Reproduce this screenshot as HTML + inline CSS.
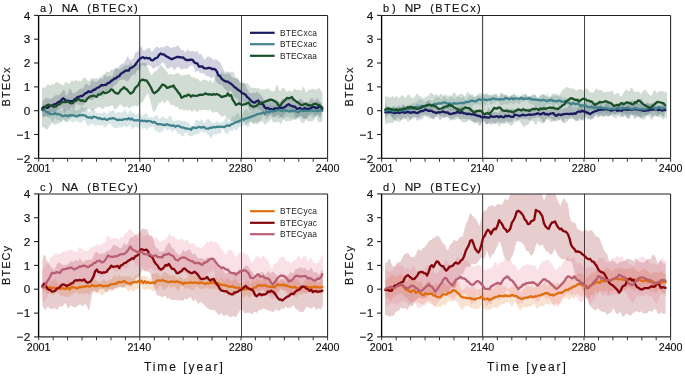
<!DOCTYPE html>
<html><head><meta charset="utf-8"><style>
html,body{margin:0;padding:0;background:#fff;width:685px;height:376px;overflow:hidden}
svg{display:block;will-change:transform}
text{font-family:"Liberation Sans",sans-serif;fill:#111;stroke:#111;stroke-width:0.15px}
</style></head><body>
<svg width="685" height="376" viewBox="0 0 685 376">
<rect width="685" height="376" fill="#fff"/>
<defs>
<clipPath id="cpa"><rect x="38.6" y="15.4" width="289" height="142.9"/></clipPath>
<clipPath id="cpb"><rect x="381.6" y="15.4" width="289" height="142.9"/></clipPath>
<clipPath id="cpc"><rect x="38.6" y="193.9" width="289" height="143"/></clipPath>
<clipPath id="cpd"><rect x="381.6" y="193.9" width="289" height="143"/></clipPath>
</defs>
<line x1="139.7" y1="15.4" x2="139.7" y2="158.3" stroke="#444" stroke-width="1.1"/>
<line x1="241.5" y1="15.4" x2="241.5" y2="158.3" stroke="#444" stroke-width="1.0"/>
<g clip-path="url(#cpa)">
<path d="M42.3 100.4L43.8 100.5L45.3 98.5L46.8 97.7L48.3 98.4L49.8 99L51.3 98.7L52.8 97.4L54.3 96.2L55.8 95.1L57.3 95.3L58.8 95.4L60.3 93.5L61.8 92.5L63.3 89.6L64.8 90.8L66.3 95.8L67.8 93.9L69.3 89.1L70.8 89.3L72.3 92.5L73.8 93.8L75.3 92.6L76.8 91.8L78.3 90L79.8 89.1L81.3 88.4L82.8 88.7L84.3 86.3L85.8 83.5L87.3 84L88.8 86L90.3 84.5L91.8 80.5L93.3 80.5L94.8 82.1L96.3 81.5L97.8 80.9L99.3 77.8L100.8 76.9L102.3 80.1L103.8 76.4L105.3 74.7L106.8 77.3L108.3 76.3L109.8 75.2L111.3 77.2L112.8 75L114.3 70.5L115.8 67.9L117.3 67.8L118.8 67.3L120.3 64.9L121.8 63.8L123.3 63.6L124.8 61.8L126.3 58.5L127.8 56.2L129.3 59L130.8 60.1L132.3 58.9L133.8 57.1L135.3 52.8L136.8 51.9L138.3 51.3L139.8 47.9L141.3 45.9L142.8 49.7L144.3 51.3L145.8 49.6L147.3 48.8L148.8 47.4L150.3 48.9L151.8 51.9L153.3 50.6L154.8 48.2L156.3 47.1L157.8 46.8L159.3 48.6L160.8 47L162.3 47.3L163.8 47.6L165.3 46L166.8 46L168.3 46L169.8 47.6L171.3 47.9L172.8 47.2L174.3 46.9L175.8 46.7L177.3 45.6L178.8 46.3L180.3 48.7L181.8 50.1L183.3 50.2L184.8 52L186.3 51.6L187.8 48.7L189.3 51.3L190.8 51.2L192.3 50.8L193.8 51.6L195.3 51.5L196.8 50.9L198.3 52.2L199.8 55.1L201.3 53.6L202.8 56.7L204.3 59.7L205.8 58.5L207.3 56.7L208.8 56.6L210.3 57.3L211.8 58.3L213.3 59.8L214.8 59.5L216.3 59.2L217.8 60.8L219.3 61.7L220.8 63.6L222.3 67.2L223.8 70.2L225.3 72.7L226.8 71.6L228.3 71.5L229.8 73.3L231.3 76.5L232.8 78.2L234.3 77.5L235.8 77.7L237.3 77.4L238.8 80.1L240.3 81.9L241.8 83.2L243.3 82.8L244.8 84.2L246.3 87L247.8 90.3L249.3 93.1L250.8 93.3L252.3 93L253.8 92.8L255.3 93.1L256.8 91.5L258.3 92.7L259.8 93.9L261.3 95.2L262.8 97.9L264.3 100.1L265.8 100.7L267.3 99L268.8 98.4L270.3 100.2L271.8 98.5L273.3 99.5L274.8 101.6L276.3 100.1L277.8 101.5L279.3 102.5L280.8 101.4L282.3 99.1L283.8 98.5L285.3 99.4L286.8 97.2L288.3 97.3L289.8 99.5L291.3 96.4L292.8 96.6L294.3 98.1L295.8 99.7L297.3 102.6L298.8 100.2L300.3 98.3L301.8 100.1L303.3 101.1L304.8 103.1L306.3 104.6L307.8 102L309.3 101.3L310.8 98.6L312.3 97.7L313.8 101.1L315.3 100.3L316.8 98.3L318.3 99.1L319.8 102.8L321.3 102.7L321.3 114.3L319.8 116.8L318.3 114.9L316.8 114L315.3 116.7L313.8 114.7L312.3 112.8L310.8 114L309.3 114.5L307.8 116L306.3 119.1L304.8 119.1L303.3 118.2L301.8 117.1L300.3 116.1L298.8 116.6L297.3 117.8L295.8 117.7L294.3 114.7L292.8 112.5L291.3 113.4L289.8 113.2L288.3 111.9L286.8 112.2L285.3 113.7L283.8 115.3L282.3 116.9L280.8 117.3L279.3 116.1L277.8 114.5L276.3 115.2L274.8 117.1L273.3 116.7L271.8 114.7L270.3 113L268.8 115.8L267.3 116.2L265.8 115.7L264.3 115.6L262.8 112.2L261.3 110.7L259.8 109.6L258.3 108.6L256.8 108L255.3 108.7L253.8 110.1L252.3 110.1L250.8 110.6L249.3 110.2L247.8 106L246.3 103.8L244.8 103.8L243.3 101.6L241.8 101.8L240.3 103L238.8 101.2L237.3 99.6L235.8 98.1L234.3 97.2L232.8 94.1L231.3 90.5L229.8 90.5L228.3 92L226.8 91.2L225.3 89.1L223.8 88.3L222.3 85.5L220.8 84.6L219.3 84.4L217.8 83.5L216.3 81.5L214.8 77.5L213.3 76.7L211.8 78.3L210.3 78L208.8 76L207.3 76.5L205.8 75.4L204.3 73.8L202.8 73.3L201.3 72.8L199.8 73.3L198.3 70.5L196.8 71.5L195.3 72.4L193.8 67.2L192.3 65.3L190.8 65.8L189.3 66.6L187.8 68.3L186.3 69.1L184.8 68.5L183.3 68.4L181.8 70L180.3 68.5L178.8 66.8L177.3 67.1L175.8 68.4L174.3 70.4L172.8 68L171.3 66.8L169.8 68.1L168.3 68.8L166.8 68.6L165.3 65.9L163.8 62.9L162.3 62.2L160.8 64.2L159.3 65.5L157.8 66.6L156.3 66.4L154.8 68.1L153.3 69L151.8 66.8L150.3 65.5L148.8 65.1L147.3 64.9L145.8 65.5L144.3 66.8L142.8 64.5L141.3 66.6L139.8 71.1L138.3 69.9L136.8 70.6L135.3 74.6L133.8 74.6L132.3 75.1L130.8 76.8L129.3 79.4L127.8 81.6L126.3 81.2L124.8 79.7L123.3 79.4L121.8 79.8L120.3 80L118.8 80.8L117.3 83.2L115.8 84.7L114.3 86L112.8 86.9L111.3 88.9L109.8 89.7L108.3 90L106.8 91.6L105.3 91.6L103.8 93.7L102.3 96.9L100.8 95.2L99.3 93.2L97.8 95L96.3 95.5L94.8 97.7L93.3 99.7L91.8 100.1L90.3 100.2L88.8 97.9L87.3 97.7L85.8 99.8L84.3 103.2L82.8 105.4L81.3 105L79.8 105.6L78.3 104.2L76.8 103.1L75.3 105.4L73.8 108.3L72.3 107.5L70.8 108L69.3 109.9L67.8 110.2L66.3 111.7L64.8 112.5L63.3 109L61.8 106.8L60.3 109.6L58.8 109.6L57.3 109.1L55.8 112.2L54.3 114.2L52.8 112.3L51.3 111.8L49.8 114.9L48.3 118L46.8 116.2L45.3 115.5L43.8 118.3L42.3 116.1Z" fill="#1a1a5e" fill-opacity="0.2"/>
<path d="M42.3 107.4L43.8 104L45.3 104.2L46.8 104.5L48.3 104.2L49.8 105.1L51.3 107.1L52.8 107.1L54.3 107.5L55.8 107.8L57.3 107.3L58.8 109.8L60.3 111L61.8 109.2L63.3 108.9L64.8 110.2L66.3 112.6L67.8 111.7L69.3 108.6L70.8 109.5L72.3 108.4L73.8 107.5L75.3 110.1L76.8 111.3L78.3 109.8L79.8 109.4L81.3 105.9L82.8 106.7L84.3 109.2L85.8 106.7L87.3 108.9L88.8 112.4L90.3 111.4L91.8 109L93.3 109.1L94.8 110.5L96.3 112.3L97.8 113.4L99.3 112.6L100.8 113.5L102.3 113.5L103.8 111.4L105.3 112.5L106.8 114.2L108.3 112.9L109.8 111L111.3 111.5L112.8 109.9L114.3 110.6L115.8 114.3L117.3 111.9L118.8 111.7L120.3 112.2L121.8 112.8L123.3 111.3L124.8 109.1L126.3 112L127.8 114.2L129.3 111.3L130.8 109.7L132.3 112.9L133.8 113.1L135.3 114.9L136.8 114.5L138.3 113.3L139.8 113.5L141.3 114.8L142.8 116.1L144.3 114.2L145.8 112.3L147.3 114.7L148.8 117.6L150.3 116.7L151.8 117.3L153.3 117.4L154.8 116L156.3 115.2L157.8 115.6L159.3 118.7L160.8 118.1L162.3 115.9L163.8 117.2L165.3 118.1L166.8 119.1L168.3 117.4L169.8 115.1L171.3 116.8L172.8 120.5L174.3 121.6L175.8 120.8L177.3 119.9L178.8 120.3L180.3 120.6L181.8 121.5L183.3 121.2L184.8 120.7L186.3 121.8L187.8 122.5L189.3 123.2L190.8 125.4L192.3 126.8L193.8 125.4L195.3 121.2L196.8 119L198.3 120.5L199.8 121.4L201.3 119.4L202.8 120.1L204.3 124L205.8 121.1L207.3 118.8L208.8 119.4L210.3 120.5L211.8 122.1L213.3 124.1L214.8 123L216.3 121.3L217.8 121.5L219.3 122.4L220.8 122.8L222.3 122.3L223.8 120.2L225.3 118.5L226.8 118.8L228.3 120.5L229.8 121.4L231.3 118.5L232.8 116.4L234.3 116.5L235.8 115.3L237.3 113L238.8 113.8L240.3 117.1L241.8 115.7L243.3 111.7L244.8 110.1L246.3 108.7L247.8 110.2L249.3 112.1L250.8 111.1L252.3 110L253.8 109.6L255.3 109L256.8 106.7L258.3 105.5L259.8 107L261.3 106.1L262.8 105.1L264.3 104.7L265.8 104.5L267.3 106L268.8 105.5L270.3 104L271.8 105.3L273.3 106.1L274.8 107.1L276.3 103.9L277.8 102.9L279.3 104.6L280.8 103.7L282.3 105.3L283.8 106.4L285.3 106.7L286.8 105.7L288.3 106.4L289.8 106L291.3 104.1L292.8 105.3L294.3 104.8L295.8 106.2L297.3 108L298.8 107.9L300.3 106.6L301.8 103.7L303.3 103.9L304.8 105.1L306.3 104.3L307.8 103.9L309.3 104.5L310.8 105.9L312.3 105.2L313.8 104.5L315.3 104.4L316.8 102L318.3 101.9L319.8 101.5L321.3 102.4L321.3 118.8L319.8 118.2L318.3 115.1L316.8 114.8L315.3 116.6L313.8 118.8L312.3 117.6L310.8 115.6L309.3 116.1L307.8 117.2L306.3 117.9L304.8 118.2L303.3 118.3L301.8 115.3L300.3 114.9L298.8 118.1L297.3 119.8L295.8 119.6L294.3 119.4L292.8 118.5L291.3 118.3L289.8 118.2L288.3 116.6L286.8 116.6L285.3 117.6L283.8 119.7L282.3 118.4L280.8 117.2L279.3 118.4L277.8 118.3L276.3 116.7L274.8 116.2L273.3 118.3L271.8 116.8L270.3 115.5L268.8 116.5L267.3 119.4L265.8 119.5L264.3 115.2L262.8 116.5L261.3 119L259.8 120.9L258.3 122.3L256.8 121.7L255.3 121.5L253.8 122.5L252.3 122.4L250.8 121.7L249.3 125.9L247.8 127.4L246.3 125.9L244.8 124.8L243.3 125.7L241.8 127.3L240.3 126.8L238.8 127.4L237.3 129.7L235.8 130.5L234.3 128.4L232.8 130.8L231.3 131.5L229.8 129.8L228.3 133.7L226.8 133.9L225.3 133.1L223.8 130.3L222.3 128.5L220.8 133.4L219.3 133.7L217.8 133L216.3 134.9L214.8 134L213.3 134.4L211.8 138.7L210.3 137.6L208.8 135L207.3 134.1L205.8 132L204.3 132.6L202.8 132L201.3 131.1L199.8 132.6L198.3 133.7L196.8 134.5L195.3 134.7L193.8 135.1L192.3 136.1L190.8 136.6L189.3 136.3L187.8 133.5L186.3 132L184.8 133.2L183.3 136L181.8 136.7L180.3 134.1L178.8 133.7L177.3 133.2L175.8 130L174.3 129.7L172.8 131.8L171.3 130.7L169.8 128.6L168.3 130.1L166.8 130.8L165.3 128L163.8 128.7L162.3 132.4L160.8 132.2L159.3 133L157.8 131.5L156.3 131L154.8 130.8L153.3 126.3L151.8 126.7L150.3 127.5L148.8 127.8L147.3 130.1L145.8 128.5L144.3 128L142.8 129.3L141.3 125.7L139.8 126.6L138.3 128.5L136.8 126.8L135.3 126.4L133.8 128.4L132.3 129.1L130.8 126.2L129.3 125.3L127.8 126.8L126.3 127.5L124.8 126.2L123.3 126.3L121.8 127.6L120.3 127.2L118.8 127.3L117.3 128.4L115.8 128.2L114.3 127.7L112.8 127.2L111.3 125L109.8 123.2L108.3 124.4L106.8 125.7L105.3 127.8L103.8 126.4L102.3 124.8L100.8 125.9L99.3 125.5L97.8 124.2L96.3 125.7L94.8 126.1L93.3 123.8L91.8 124.4L90.3 124L88.8 126.7L87.3 126.1L85.8 121.7L84.3 120L82.8 120.8L81.3 123.6L79.8 122.9L78.3 121.3L76.8 121.8L75.3 120.4L73.8 121.4L72.3 122.9L70.8 121L69.3 120.9L67.8 122.8L66.3 122.3L64.8 120.5L63.3 120.2L61.8 122.2L60.3 121L58.8 119.7L57.3 120.5L55.8 117.8L54.3 118.9L52.8 122.6L51.3 120L49.8 118.2L48.3 116.5L46.8 115.9L45.3 116.7L43.8 116L42.3 116Z" fill="#41828c" fill-opacity="0.2"/>
<path d="M42 86.6L43.5 87.9L45 87.8L46.5 86.3L48 83.9L49.5 85.7L51 85L52.5 83.4L54 85.1L55.5 82.6L57 82.2L58.5 82.4L60 83.7L61.5 84.3L63 85.6L64.5 83.6L66 81.8L67.5 82.9L69 83.9L70.5 82.2L72 80.1L73.5 82.1L75 80L76.5 80.2L78 81.4L79.5 80.6L81 81.4L82.5 79.1L84 77.2L85.5 78.2L87 80.1L88.5 81.4L90 79.8L91.5 78.2L93 78.2L94.5 78.3L96 78.4L97.5 78.1L99 79.9L100.5 78.5L102 74.9L103.5 75.1L105 73.4L106.5 71.5L108 71.8L109.5 72.2L111 69.8L112.5 69.6L114 69.8L115.5 67.7L117 68.7L118.5 69L120 68.9L121.5 67.9L123 66.3L124.5 66.2L126 64.7L127.5 65.4L129 65.3L130.5 62L132 64.9L133.5 65.9L135 61.7L136.5 63.7L138 64.3L139.5 63L141 63.1L142.5 62.7L144 62.9L145.5 62.4L147 65L148.5 69L150 72.8L151.5 75.6L153 73.2L154.5 71.3L156 71.6L157.5 69.6L159 67.1L160.5 64.8L162 66.3L163.5 67.4L165 69.3L166.5 71L168 73.6L169.5 74.7L171 73.4L172.5 74.5L174 74.9L175.5 73.6L177 73L178.5 73.1L180 74.6L181.5 75.8L183 75.2L184.5 75.3L186 74.6L187.5 74.7L189 74.1L190.5 75.6L192 77.8L193.5 76.9L195 77.9L196.5 78.6L198 78.5L199.5 80.8L201 81.7L202.5 79.5L204 80.1L205.5 79.4L207 80.6L208.5 81.9L210 79.5L211.5 81.9L213 82.9L214.5 78.5L216 74.9L217.5 75.5L219 76.3L220.5 74.3L222 72L223.5 73.8L225 74.2L226.5 73.8L228 74.5L229.5 72.7L231 72L232.5 71.2L234 72.9L235.5 78.7L237 78.9L238.5 79.9L240 83.6L241.5 82.9L243 82.4L244.5 83.3L246 83.1L247.5 83.4L249 85L250.5 86.7L252 88.4L253.5 87.4L255 88.1L256.5 88.4L258 87.5L259.5 89.1L261 89.6L262.5 89.3L264 90L265.5 89.6L267 88.4L268.5 88.6L270 90.4L271.5 90.4L273 91.3L274.5 91.5L276 85.8L277.5 85L279 90.4L280.5 91L282 88.5L283.5 87.5L285 89.5L286.5 91.7L288 91L289.5 90.3L291 91.3L292.5 91.8L294 88.8L295.5 88.8L297 90.6L298.5 89.6L300 90.4L301.5 90.7L303 86.5L304.5 88.3L306 93.1L307.5 91.1L309 89.4L310.5 89.8L312 88.8L313.5 88.8L315 90.1L316.5 89.3L318 88.5L319.5 88.1L321 90.5L322.5 92.9L322.5 120.6L321 122.3L319.5 122.8L318 121.1L316.5 116.8L315 117.4L313.5 120.2L312 121.5L310.5 121.3L309 121.2L307.5 121.1L306 119.2L304.5 121.9L303 123.5L301.5 122.5L300 120.1L298.5 116.6L297 117.7L295.5 119.7L294 119.5L292.5 119.8L291 121.5L289.5 120.6L288 120.7L286.5 121.7L285 120.6L283.5 118.8L282 121.9L280.5 124.8L279 121.5L277.5 121.8L276 122.6L274.5 121.8L273 122.6L271.5 118.8L270 119.5L268.5 122.8L267 121.8L265.5 125L264 124L262.5 120.7L261 121.8L259.5 122L258 123.7L256.5 124.3L255 123.5L253.5 124.5L252 122.5L250.5 121L249 122.6L247.5 123.6L246 124.8L244.5 122.6L243 121.8L241.5 122L240 122.4L238.5 124.6L237 122.9L235.5 121L234 120.9L232.5 121.7L231 121.2L229.5 119.2L228 119.6L226.5 118.4L225 115.1L223.5 116.1L222 117.2L220.5 115.3L219 113.9L217.5 112.2L216 111.7L214.5 111.9L213 113L211.5 111.3L210 109.1L208.5 110.9L207 110.1L205.5 109.8L204 109.9L202.5 110.1L201 110.7L199.5 109.3L198 111.4L196.5 112.3L195 109.5L193.5 110.7L192 111.7L190.5 110.3L189 109.8L187.5 110.7L186 109.8L184.5 110.4L183 110.2L181.5 108.7L180 110.3L178.5 108L177 106.5L175.5 106.9L174 105.3L172.5 105L171 105.2L169.5 102.6L168 100.6L166.5 100.5L165 103.7L163.5 102.1L162 100.5L160.5 102.9L159 103.3L157.5 106.1L156 108.9L154.5 111.4L153 111.7L151.5 105.4L150 99.7L148.5 93.8L147 94.5L145.5 96.3L144 99.6L142.5 102.8L141 101.8L139.5 104.5L138 106.6L136.5 106L135 105.4L133.5 106.2L132 106.4L130.5 107.2L129 109L127.5 106.3L126 106.8L124.5 107.8L123 106.6L121.5 105.5L120 104.3L118.5 106.5L117 107.8L115.5 109.7L114 108.4L112.5 104.9L111 105.5L109.5 106.2L108 107.2L106.5 106.5L105 106.6L103.5 109.1L102 108.7L100.5 107.5L99 106.7L97.5 107.6L96 108.3L94.5 109.2L93 110.8L91.5 110L90 109.5L88.5 108.9L87 109.1L85.5 111L84 112L82.5 111.6L81 113L79.5 114.9L78 114.9L76.5 115.5L75 114.3L73.5 113.8L72 115.9L70.5 118.4L69 119.3L67.5 119.5L66 122L64.5 120.7L63 118.6L61.5 121L60 123.2L58.5 123.3L57 123.9L55.5 124.7L54 124.3L52.5 123.1L51 123.8L49.5 125.8L48 128.6L46.5 130.1L45 128.2L43.5 126.9L42 126.9Z" fill="#1a5028" fill-opacity="0.2"/>
<path d="M42.3 108L43.9 107L45.5 106.8L47.1 107.9L48.7 106.9L50.3 105.6L51.9 105.9L53.5 104.6L55.1 104.2L56.7 103.5L58.3 102.2L59.9 101.6L61.5 99.9L63.1 98.3L64.7 99.4L66.3 100.8L67.9 100.6L69.5 101.4L71.1 101L72.7 101.4L74.3 99.6L75.9 98.7L77.5 97.2L79.1 96.7L80.7 96L82.3 96.1L83.9 94.7L85.5 93.2L87.1 92.7L88.7 91.2L90.3 92.1L91.9 91.5L93.5 89.7L95.1 89.8L96.7 88L98.3 87.6L99.9 86.6L101.5 85L103.1 85.3L104.7 84.8L106.3 84.8L107.9 82.8L109.5 82.8L111.1 80.9L112.7 80.1L114.3 78.5L115.9 78.4L117.5 76.6L119.1 76.3L120.7 74L122.3 72.8L123.9 71.9L125.5 70.6L127.1 70.4L128.7 70.6L130.3 67.8L131.9 67.6L133.5 66.4L135.1 65.2L136.7 62.6L138.3 60.6L139.9 58.9L141.5 57.8L143.1 57.2L144.7 58.4L146.3 57.7L147.9 58.4L149.5 58L151.1 60L152.7 60.4L154.3 59.2L155.9 58L157.5 57.5L159.1 54.9L160.7 53.5L162.3 54.4L163.9 54.4L165.5 55.8L167.1 56.8L168.7 57.6L170.3 58.6L171.9 59.3L173.5 58.3L175.1 57.8L176.7 57L178.3 57L179.9 57.2L181.5 57.7L183.1 57.4L184.7 59L186.3 60.2L187.9 59.8L189.5 60L191.1 59.7L192.7 60L194.3 62.4L195.9 63.1L197.5 63.7L199.1 66.7L200.7 66.5L202.3 66.4L203.9 68.1L205.5 68.4L207.1 68.4L208.7 67.8L210.3 67.9L211.9 69.2L213.5 69L215.1 69.3L216.7 71.3L218.3 75.3L219.9 75.9L221.5 78.6L223.1 79.9L224.7 80.9L226.3 81.6L227.9 81.6L229.5 83L231.1 83.7L232.7 85.3L234.3 86.9L235.9 87.9L237.5 89.4L239.1 90.4L240.7 91.7L242.3 93.3L243.9 93.7L245.5 94.7L247.1 97L248.7 98.2L250.3 99.9L251.9 101.5L253.5 102.4L255.1 102.5L256.7 101.2L258.3 100.5L259.9 103.3L261.5 103.8L263.1 104.3L264.7 107.4L266.3 108.5L267.9 107.9L269.5 109L271.1 109.1L272.7 109.9L274.3 108.5L275.9 108.5L277.5 108.3L279.1 108.1L280.7 107.6L282.3 108L283.9 107.6L285.5 106.6L287.1 105L288.7 104.2L290.3 105.5L291.9 105.9L293.5 106.6L295.1 106.6L296.7 108.8L298.3 108.6L299.9 107.9L301.5 109.1L303.1 109.6L304.7 107.9L306.3 109.1L307.9 108.8L309.5 108.8L311.1 107.8L312.7 107.2L314.3 107.1L315.9 107.9L317.5 108L319.1 106.7L320.7 106.9L322.3 109.2" fill="none" stroke="#1a1a5e" stroke-width="2.3" stroke-linejoin="round" stroke-linecap="round"/>
<path d="M42.3 110L43.9 110.2L45.5 111.1L47.1 112.4L48.7 112.5L50.3 114.1L51.9 114.1L53.5 114.2L55.1 113.1L56.7 114.4L58.3 113.9L59.9 114.5L61.5 115.6L63.1 116.3L64.7 115.5L66.3 115.4L67.9 116.4L69.5 115.2L71.1 115.7L72.7 115.2L74.3 115.7L75.9 116.3L77.5 116.3L79.1 115.2L80.7 115.3L82.3 114.8L83.9 115.4L85.5 115.7L87.1 117.2L88.7 117.7L90.3 117.2L91.9 118.2L93.5 116.6L95.1 117L96.7 117.5L98.3 118.5L99.9 118.1L101.5 119.1L103.1 119.1L104.7 118.6L106.3 119.9L107.9 119.6L109.5 118.6L111.1 118.6L112.7 118.2L114.3 118.4L115.9 119.3L117.5 120.1L119.1 119.7L120.7 119.8L122.3 119.9L123.9 119.2L125.5 119.1L127.1 119.3L128.7 118.2L130.3 119.5L131.9 118.5L133.5 120.1L135.1 120.3L136.7 120.3L138.3 120.2L139.9 120.8L141.5 120.7L143.1 121.1L144.7 120.7L146.3 121.5L147.9 120.8L149.5 121.2L151.1 121.3L152.7 122.7L154.3 121.9L155.9 123L157.5 124.4L159.1 124.1L160.7 124.1L162.3 124.8L163.9 124.6L165.5 125.1L167.1 124.2L168.7 124.9L170.3 125.4L171.9 125.9L173.5 125.2L175.1 126.8L176.7 125.9L178.3 125.9L179.9 126.5L181.5 127.4L183.1 127.5L184.7 128.2L186.3 128.5L187.9 128.7L189.5 128.8L191.1 129.7L192.7 127.5L194.3 127.6L195.9 128.1L197.5 127.5L199.1 126.7L200.7 127.5L202.3 127.5L203.9 126.7L205.5 128.3L207.1 128.6L208.7 128.5L210.3 127.6L211.9 127.8L213.5 127L215.1 127.4L216.7 126.7L218.3 127.1L219.9 126.5L221.5 126.9L223.1 126.8L224.7 127L226.3 125.6L227.9 125.5L229.5 125.8L231.1 124.4L232.7 124L234.3 123.1L235.9 122.1L237.5 121.8L239.1 121L240.7 120.4L242.3 119.1L243.9 119.8L245.5 118.4L247.1 118.4L248.7 117.4L250.3 117.4L251.9 116.3L253.5 115.8L255.1 115.3L256.7 114.4L258.3 114L259.9 113.7L261.5 113.3L263.1 112.4L264.7 113.7L266.3 111.7L267.9 111.6L269.5 112.6L271.1 110.7L272.7 111.4L274.3 111.3L275.9 110.7L277.5 110.1L279.1 109.9L280.7 110.6L282.3 110.9L283.9 109.6L285.5 110.9L287.1 110.5L288.7 111.4L290.3 111.1L291.9 110.7L293.5 110.8L295.1 111L296.7 111.6L298.3 112.3L299.9 110.9L301.5 110.7L303.1 111L304.7 110.6L306.3 111L307.9 110.8L309.5 110.6L311.1 110.2L312.7 110.7L314.3 111L315.9 110.5L317.5 111.1L319.1 110.7L320.7 110.1L322.3 111" fill="none" stroke="#41828c" stroke-width="2.3" stroke-linejoin="round" stroke-linecap="round"/>
<path d="M42.3 109.3L43.9 108.1L45.5 106.9L47.1 105.2L48.7 104.7L50.3 105.9L51.9 105.6L53.5 106.9L55.1 106.7L56.7 105.9L58.3 104.4L59.9 104.1L61.5 102.3L63.1 102L64.7 101.9L66.3 102.1L67.9 101.1L69.5 102.7L71.1 103.3L72.7 103.2L74.3 101.2L75.9 100.8L77.5 99.4L79.1 99.2L80.7 100.8L82.3 100.2L83.9 101.2L85.5 101.3L87.1 98.9L88.7 97.5L90.3 96.3L91.9 96.2L93.5 95.5L95.1 96.2L96.7 96.9L98.3 94.3L99.9 94.7L101.5 93.4L103.1 92L104.7 93.2L106.3 92.9L107.9 92.2L109.5 91.3L111.1 89.4L112.7 89.9L114.3 92L115.9 93.2L117.5 93.7L119.1 92.6L120.7 90L122.3 89L123.9 87.2L125.5 88.7L127.1 89.6L128.7 91.7L130.3 93.6L131.9 93L133.5 91.4L135.1 88.1L136.7 86.5L138.3 85.1L139.9 81.4L141.5 80L143.1 79.7L144.7 80.3L146.3 80.3L147.9 82.4L149.5 85L151.1 87.8L152.7 91.6L154.3 93.2L155.9 92.2L157.5 91L159.1 89L160.7 87L162.3 84.5L163.9 85L165.5 85.9L167.1 88L168.7 87.4L170.3 86.6L171.9 86.5L173.5 85.5L175.1 88.4L176.7 90L178.3 92.7L179.9 94.2L181.5 97.7L183.1 97L184.7 95.9L186.3 96L187.9 94.7L189.5 95.2L191.1 96.7L192.7 95.3L194.3 95.6L195.9 95.8L197.5 95.6L199.1 95L200.7 94.7L202.3 94.8L203.9 94.3L205.5 93.4L207.1 94.2L208.7 94.5L210.3 94.2L211.9 94.9L213.5 94L215.1 94.7L216.7 94L218.3 94.7L219.9 95.6L221.5 97.2L223.1 96.6L224.7 96.1L226.3 95.8L227.9 93.4L229.5 95.8L231.1 95.1L232.7 99.7L234.3 102L235.9 105L237.5 104.3L239.1 103.1L240.7 104.3L242.3 104.8L243.9 104.4L245.5 104.2L247.1 103.2L248.7 102.5L250.3 105.3L251.9 105.9L253.5 106.8L255.1 106.3L256.7 105.6L258.3 104L259.9 104.2L261.5 102.4L263.1 102.7L264.7 101.8L266.3 101.1L267.9 100.7L269.5 99.9L271.1 99.6L272.7 100L274.3 101.2L275.9 101.8L277.5 103.6L279.1 106.4L280.7 105.2L282.3 102.7L283.9 101.2L285.5 99.7L287.1 97.8L288.7 98.3L290.3 97.8L291.9 97L293.5 99.7L295.1 100.6L296.7 101.9L298.3 102.6L299.9 104.3L301.5 104.8L303.1 104.8L304.7 104L306.3 103.7L307.9 105.5L309.5 104.9L311.1 105.8L312.7 104.8L314.3 103.8L315.9 103.6L317.5 104.8L319.1 104.8L320.7 106.1L322.3 107.6" fill="none" stroke="#1a5028" stroke-width="2.3" stroke-linejoin="round" stroke-linecap="round"/>
</g>
<line x1="38.6" y1="15.4" x2="327.6" y2="15.4" stroke="#222" stroke-width="1.05"/>
<line x1="327.6" y1="15.4" x2="327.6" y2="158.3" stroke="#222" stroke-width="1.05"/>
<line x1="38.6" y1="158.3" x2="327.6" y2="158.3" stroke="#2a2a2a" stroke-width="1.25"/>
<line x1="38.6" y1="15.4" x2="38.6" y2="158.3" stroke="#000" stroke-width="1.35"/>
<line x1="34.1" y1="158.3" x2="38.6" y2="158.3" stroke="#222" stroke-width="1.1"/>
<text x="30.3" y="162.5" font-size="11.8" text-anchor="end">−2</text>
<line x1="34.1" y1="134.5" x2="38.6" y2="134.5" stroke="#222" stroke-width="1.1"/>
<text x="30.3" y="138.7" font-size="11.8" text-anchor="end">−1</text>
<line x1="34.1" y1="110.7" x2="38.6" y2="110.7" stroke="#222" stroke-width="1.1"/>
<text x="30.3" y="114.9" font-size="11.8" text-anchor="end">0</text>
<line x1="34.1" y1="86.9" x2="38.6" y2="86.9" stroke="#222" stroke-width="1.1"/>
<text x="30.3" y="91.1" font-size="11.8" text-anchor="end">1</text>
<line x1="34.1" y1="63" x2="38.6" y2="63" stroke="#222" stroke-width="1.1"/>
<text x="30.3" y="67.2" font-size="11.8" text-anchor="end">2</text>
<line x1="34.1" y1="39.2" x2="38.6" y2="39.2" stroke="#222" stroke-width="1.1"/>
<text x="30.3" y="43.4" font-size="11.8" text-anchor="end">3</text>
<line x1="34.1" y1="15.4" x2="38.6" y2="15.4" stroke="#222" stroke-width="1.1"/>
<text x="30.3" y="19.6" font-size="11.8" text-anchor="end">4</text>
<line x1="38.7" y1="158.3" x2="38.7" y2="161.8" stroke="#333" stroke-width="1"/>
<line x1="53.2" y1="158.3" x2="53.2" y2="161.8" stroke="#333" stroke-width="1"/>
<line x1="67.6" y1="158.3" x2="67.6" y2="161.8" stroke="#333" stroke-width="1"/>
<line x1="82" y1="158.3" x2="82" y2="161.8" stroke="#333" stroke-width="1"/>
<line x1="96.5" y1="158.3" x2="96.5" y2="161.8" stroke="#333" stroke-width="1"/>
<line x1="111" y1="158.3" x2="111" y2="161.8" stroke="#333" stroke-width="1"/>
<line x1="125.4" y1="158.3" x2="125.4" y2="161.8" stroke="#333" stroke-width="1"/>
<line x1="139.8" y1="158.3" x2="139.8" y2="161.8" stroke="#333" stroke-width="1"/>
<line x1="154.3" y1="158.3" x2="154.3" y2="161.8" stroke="#333" stroke-width="1"/>
<line x1="168.8" y1="158.3" x2="168.8" y2="161.8" stroke="#333" stroke-width="1"/>
<line x1="183.2" y1="158.3" x2="183.2" y2="161.8" stroke="#333" stroke-width="1"/>
<line x1="197.6" y1="158.3" x2="197.6" y2="161.8" stroke="#333" stroke-width="1"/>
<line x1="212.1" y1="158.3" x2="212.1" y2="161.8" stroke="#333" stroke-width="1"/>
<line x1="226.6" y1="158.3" x2="226.6" y2="161.8" stroke="#333" stroke-width="1"/>
<line x1="241" y1="158.3" x2="241" y2="161.8" stroke="#333" stroke-width="1"/>
<line x1="255.4" y1="158.3" x2="255.4" y2="161.8" stroke="#333" stroke-width="1"/>
<line x1="269.9" y1="158.3" x2="269.9" y2="161.8" stroke="#333" stroke-width="1"/>
<line x1="284.3" y1="158.3" x2="284.3" y2="161.8" stroke="#333" stroke-width="1"/>
<line x1="298.8" y1="158.3" x2="298.8" y2="161.8" stroke="#333" stroke-width="1"/>
<line x1="313.2" y1="158.3" x2="313.2" y2="161.8" stroke="#333" stroke-width="1"/>
<line x1="327.6" y1="158.3" x2="327.6" y2="161.8" stroke="#333" stroke-width="1"/>
<text x="38.6" y="172" font-size="11.6" text-anchor="middle" textLength="23.8" lengthAdjust="spacingAndGlyphs">2001</text>
<text x="139.3" y="172" font-size="11.6" text-anchor="middle" textLength="23.8" lengthAdjust="spacingAndGlyphs">2140</text>
<text x="240.7" y="172" font-size="11.6" text-anchor="middle" textLength="23.8" lengthAdjust="spacingAndGlyphs">2280</text>
<text x="327.6" y="172" font-size="11.6" text-anchor="middle" textLength="23.8" lengthAdjust="spacingAndGlyphs">2400</text>
<text x="40" y="12.4" font-size="11" textLength="12.6" lengthAdjust="spacing">a)</text>
<text x="61.8" y="12.4" font-size="11" textLength="16.5" lengthAdjust="spacingAndGlyphs">NA</text>
<text x="87.2" y="12.4" font-size="11" textLength="50.5" lengthAdjust="spacing">(BTECx)</text>
<text transform="translate(10.1 86.9) rotate(-90)" font-size="11" text-anchor="middle" textLength="39" lengthAdjust="spacing">BTECx</text>
<line x1="250" y1="32.8" x2="274.6" y2="32.8" stroke="#1a1a5e" stroke-width="2.2"/>
<text x="280" y="35.8" font-size="8.4" textLength="37" lengthAdjust="spacing" style="stroke-width:0;fill:#1a1a1a">BTECxca</text>
<line x1="250" y1="44.2" x2="274.6" y2="44.2" stroke="#41828c" stroke-width="2.2"/>
<text x="280" y="47.2" font-size="8.4" textLength="37" lengthAdjust="spacing" style="stroke-width:0;fill:#1a1a1a">BTECxac</text>
<line x1="250" y1="55.8" x2="274.6" y2="55.8" stroke="#1a5028" stroke-width="2.2"/>
<text x="280" y="58.8" font-size="8.4" textLength="37" lengthAdjust="spacing" style="stroke-width:0;fill:#1a1a1a">BTECxaa</text>
<line x1="482.6" y1="15.4" x2="482.6" y2="158.3" stroke="#444" stroke-width="1.1"/>
<line x1="584.5" y1="15.4" x2="584.5" y2="158.3" stroke="#444" stroke-width="1.0"/>
<g clip-path="url(#cpb)">
<path d="M385.3 107.9L386.8 106.5L388.3 106.8L389.8 108.7L391.3 107.2L392.8 106.4L394.3 107.2L395.8 108.1L397.3 107.3L398.8 105.3L400.3 106.7L401.8 107.3L403.3 105.1L404.8 105.3L406.3 107.1L407.8 106.5L409.3 106.5L410.8 107.1L412.3 105.1L413.8 106.5L415.3 107.5L416.8 103.2L418.3 104L419.8 107.4L421.3 106.3L422.8 105.8L424.3 107.4L425.8 104.2L427.3 100.2L428.8 100.3L430.3 104.9L431.8 105.8L433.3 103.2L434.8 103L436.3 105L437.8 106.8L439.3 107.8L440.8 108.7L442.3 106.5L443.8 105L445.3 104.8L446.8 105.4L448.3 105.7L449.8 104.7L451.3 108.6L452.8 109.6L454.3 107.6L455.8 110L457.3 109.9L458.8 107.1L460.3 106.5L461.8 106.1L463.3 107.5L464.8 108.2L466.3 109.2L467.8 109.4L469.3 107.2L470.8 107.4L472.3 108.6L473.8 109.5L475.3 110.6L476.8 110.2L478.3 109.4L479.8 112.6L481.3 112.5L482.8 111.3L484.3 113.5L485.8 113.3L487.3 110.8L488.8 107.7L490.3 110.9L491.8 113.5L493.3 112.3L494.8 111.4L496.3 112.1L497.8 113.3L499.3 111.4L500.8 109.8L502.3 110.1L503.8 110.5L505.3 109.8L506.8 108.5L508.3 108.1L509.8 109.9L511.3 108.8L512.8 108.5L514.3 110.4L515.8 109.8L517.3 108.1L518.8 107.7L520.3 109.5L521.8 108.4L523.3 107.1L524.8 108.3L526.3 108.8L527.8 109L529.3 107.5L530.8 109.7L532.3 111L533.8 107.1L535.3 105.8L536.8 107.2L538.3 108.8L539.8 107.1L541.3 107L542.8 106.9L544.3 105.2L545.8 107.7L547.3 110.4L548.8 109.4L550.3 107.2L551.8 108.7L553.3 108.1L554.8 107.3L556.3 109L557.8 110.1L559.3 110.4L560.8 109L562.3 109.1L563.8 107.9L565.3 107.8L566.8 108.1L568.3 105.9L569.8 106.2L571.3 107.2L572.8 108.4L574.3 108.2L575.8 108.2L577.3 109L578.8 107.3L580.3 104.4L581.8 104.8L583.3 106.4L584.8 103.3L586.3 102.2L587.8 105.5L589.3 105.8L590.8 105.1L592.3 104.1L593.8 104.7L595.3 106.3L596.8 105.5L598.3 106.4L599.8 105.3L601.3 102.9L602.8 105.4L604.3 104.3L605.8 103L607.3 103.1L608.8 102.6L610.3 106.5L611.8 106.6L613.3 103.4L614.8 105.7L616.3 105.8L617.8 102.9L619.3 103.7L620.8 102.4L622.3 103.2L623.8 106.4L625.3 106L626.8 104.6L628.3 103.6L629.8 104.2L631.3 100.9L632.8 99.8L634.3 103.6L635.8 101.7L637.3 102L638.8 104.2L640.3 103.8L641.8 104.2L643.3 105L644.8 105.5L646.3 103.6L647.8 102.8L649.3 103.6L650.8 103.6L652.3 103.1L653.8 103.9L655.3 105.9L656.8 106.7L658.3 107.5L659.8 107.6L661.3 105.1L662.8 102.9L664.3 103.1L664.3 116.3L662.8 116.7L661.3 114.9L659.8 113.7L658.3 116.3L656.8 116.1L655.3 116.1L653.8 117.2L652.3 116.2L650.8 114.3L649.3 114.3L647.8 114.3L646.3 115.1L644.8 116.5L643.3 115.9L641.8 118.1L640.3 117.5L638.8 115.1L637.3 115.9L635.8 118.6L634.3 119.2L632.8 115.5L631.3 115L629.8 118.6L628.3 118.9L626.8 117.6L625.3 116.4L623.8 115.3L622.3 116.5L620.8 117.1L619.3 116.7L617.8 114.7L616.3 113.7L614.8 114.9L613.3 114.1L611.8 114L610.3 115.9L608.8 117.3L607.3 116.1L605.8 115.1L604.3 116.1L602.8 116.4L601.3 114.4L599.8 116.3L598.3 116.7L596.8 113.5L595.3 116L593.8 118.4L592.3 119.3L590.8 119.8L589.3 119.2L587.8 119.2L586.3 118.6L584.8 117.3L583.3 118.5L581.8 120.6L580.3 118.8L578.8 118L577.3 120.8L575.8 121.5L574.3 119.8L572.8 118.5L571.3 117.3L569.8 117.8L568.3 120.2L566.8 121.7L565.3 122.4L563.8 123.2L562.3 122.3L560.8 119.7L559.3 119.9L557.8 119.4L556.3 118.8L554.8 121.4L553.3 121.2L551.8 118.8L550.3 118.6L548.8 117.5L547.3 118.3L545.8 119.1L544.3 122.3L542.8 122.2L541.3 118.8L539.8 118.6L538.3 116.8L536.8 117.3L535.3 118.1L533.8 118.2L532.3 118.4L530.8 119.9L529.3 120.5L527.8 119.1L526.3 119.3L524.8 118.9L523.3 118.5L521.8 119.5L520.3 118.6L518.8 120.2L517.3 121.4L515.8 119.4L514.3 118.2L512.8 121L511.3 122.5L509.8 121.5L508.3 122.7L506.8 120.8L505.3 121.2L503.8 124.6L502.3 123.5L500.8 123.1L499.3 122.4L497.8 120.8L496.3 123.8L494.8 124.1L493.3 121.9L491.8 123.9L490.3 125.2L488.8 122.9L487.3 124.1L485.8 124.8L484.3 121.9L482.8 120.1L481.3 122.5L479.8 123.7L478.3 121L476.8 122.1L475.3 122.3L473.8 122.1L472.3 121.2L470.8 119.4L469.3 119L467.8 119.6L466.3 118.9L464.8 119.1L463.3 118.7L461.8 118.5L460.3 119.2L458.8 117.3L457.3 116.7L455.8 116.9L454.3 118.1L452.8 118.9L451.3 120.5L449.8 120.6L448.3 118.3L446.8 117L445.3 117.5L443.8 117.5L442.3 118.1L440.8 119.9L439.3 119.7L437.8 117.2L436.3 116.2L434.8 117L433.3 118.5L431.8 118.9L430.3 116.7L428.8 114.9L427.3 116.8L425.8 116.8L424.3 115.4L422.8 118.7L421.3 119.4L419.8 119.3L418.3 120.8L416.8 120.6L415.3 117.6L413.8 115.9L412.3 117.9L410.8 120.4L409.3 118.9L407.8 115.7L406.3 118.8L404.8 120.1L403.3 117.1L401.8 118.9L400.3 120.3L398.8 117.5L397.3 117.7L395.8 120.8L394.3 119.9L392.8 118.9L391.3 116L389.8 112.4L388.3 114L386.8 116.9L385.3 119Z" fill="#1a1a5e" fill-opacity="0.2"/>
<path d="M385.3 102.1L386.8 104.9L388.3 107.2L389.8 108.6L391.3 109.6L392.8 106.9L394.3 105.1L395.8 106.5L397.3 106.7L398.8 106.9L400.3 107L401.8 105.3L403.3 103.8L404.8 106.1L406.3 107.5L407.8 104L409.3 104.8L410.8 103.9L412.3 103.6L413.8 103L415.3 102.4L416.8 102.3L418.3 99.1L419.8 99.4L421.3 99.5L422.8 100.6L424.3 102.1L425.8 101.8L427.3 101.5L428.8 100.2L430.3 99.9L431.8 101.2L433.3 100.7L434.8 98.2L436.3 97L437.8 97.3L439.3 97.3L440.8 99.6L442.3 99.1L443.8 95.7L445.3 96.8L446.8 99L448.3 99.1L449.8 97.3L451.3 96.7L452.8 97.2L454.3 99.2L455.8 98.2L457.3 96.8L458.8 97L460.3 97.3L461.8 98.4L463.3 96.1L464.8 98.4L466.3 100.3L467.8 96.7L469.3 95.3L470.8 95.4L472.3 96.4L473.8 97.2L475.3 96.9L476.8 96.5L478.3 94.3L479.8 92.6L481.3 93.1L482.8 93.9L484.3 95.5L485.8 93.5L487.3 92.7L488.8 95.2L490.3 96.4L491.8 94.2L493.3 93.7L494.8 95.3L496.3 94.1L497.8 96L499.3 95.2L500.8 92.5L502.3 94.3L503.8 94.9L505.3 94.1L506.8 95.5L508.3 97.4L509.8 96.8L511.3 96.2L512.8 95L514.3 92.4L515.8 95L517.3 95.2L518.8 95.2L520.3 96.2L521.8 93.7L523.3 93.8L524.8 94.9L526.3 94.6L527.8 95.9L529.3 97.3L530.8 95.4L532.3 94.3L533.8 94.6L535.3 95.4L536.8 97.3L538.3 98.5L539.8 94.4L541.3 95.2L542.8 94.2L544.3 94.3L545.8 94.9L547.3 93.1L548.8 96.5L550.3 96.5L551.8 94.3L553.3 95.9L554.8 95.2L556.3 92L557.8 95.9L559.3 96.7L560.8 95.5L562.3 97.8L563.8 97.7L565.3 97.4L566.8 98L568.3 98.2L569.8 99.8L571.3 101L572.8 100.3L574.3 100.5L575.8 99.8L577.3 98.1L578.8 97.8L580.3 100L581.8 103.4L583.3 102.9L584.8 98.9L586.3 98.4L587.8 101.7L589.3 102.9L590.8 102.8L592.3 103.8L593.8 105L595.3 102.3L596.8 101.9L598.3 102.8L599.8 102.7L601.3 105.2L602.8 107.2L604.3 106.6L605.8 103.9L607.3 102.7L608.8 104L610.3 103.3L611.8 102.6L613.3 104.5L614.8 105.6L616.3 104.5L617.8 103.8L619.3 105.7L620.8 105.6L622.3 101.8L623.8 101.7L625.3 104.1L626.8 103.4L628.3 103.2L629.8 102L631.3 103.5L632.8 105.9L634.3 103.8L635.8 103.5L637.3 104.3L638.8 103L640.3 99.7L641.8 97.3L643.3 102.9L644.8 105L646.3 102.1L647.8 104.1L649.3 104L650.8 104.7L652.3 103.9L653.8 103.1L655.3 101.7L656.8 101.8L658.3 105.1L659.8 104.6L661.3 104.1L662.8 103.9L664.3 104.5L665.8 105.3L665.8 112.1L664.3 114.1L662.8 112.4L661.3 111.8L659.8 114L658.3 114L656.8 111.4L655.3 111.6L653.8 110.8L652.3 111.7L650.8 112L649.3 112.9L647.8 115.8L646.3 115.3L644.8 114.3L643.3 112.8L641.8 114.3L640.3 117.3L638.8 116.8L637.3 115.5L635.8 114.2L634.3 113.8L632.8 114.1L631.3 114.6L629.8 114.7L628.3 113.9L626.8 114.1L625.3 113.9L623.8 112.5L622.3 112.8L620.8 112.4L619.3 112.4L617.8 112L616.3 112.9L614.8 114.1L613.3 112.4L611.8 112.7L610.3 114.9L608.8 113.8L607.3 112.6L605.8 113.9L604.3 111.9L602.8 112.4L601.3 113.7L599.8 114L598.3 114.2L596.8 111.4L595.3 111.3L593.8 111.2L592.3 109.8L590.8 109.8L589.3 111.3L587.8 113.3L586.3 111.8L584.8 109.2L583.3 108.6L581.8 110.2L580.3 111.9L578.8 111.1L577.3 109.6L575.8 108.7L574.3 108.2L572.8 108.1L571.3 108.2L569.8 107.3L568.3 106.4L566.8 104.7L565.3 104.7L563.8 106.9L562.3 105.1L560.8 105.6L559.3 108.2L557.8 105.8L556.3 103.4L554.8 105.8L553.3 108.1L551.8 104.7L550.3 103.9L548.8 105.1L547.3 103.8L545.8 106.1L544.3 107.9L542.8 106.6L541.3 108.4L539.8 109.3L538.3 107.4L536.8 106.8L535.3 105.9L533.8 104.8L532.3 104.6L530.8 104.3L529.3 104.2L527.8 101.3L526.3 99.3L524.8 101.9L523.3 101.6L521.8 101.5L520.3 103.6L518.8 104.3L517.3 102.6L515.8 102.4L514.3 104.7L512.8 104.1L511.3 102.7L509.8 103.2L508.3 104.4L506.8 104.4L505.3 104.2L503.8 103.5L502.3 105.2L500.8 106.1L499.3 103.6L497.8 100.4L496.3 101.1L494.8 103.3L493.3 102.8L491.8 104.3L490.3 104.6L488.8 101.1L487.3 102.5L485.8 106.3L484.3 104.2L482.8 102.4L481.3 105.3L479.8 105.3L478.3 103.9L476.8 104.5L475.3 103.9L473.8 105.1L472.3 106.1L470.8 108L469.3 107.8L467.8 105.6L466.3 108L464.8 108L463.3 107.8L461.8 108.3L460.3 108.3L458.8 110L457.3 110.6L455.8 109.8L454.3 110.2L452.8 110.7L451.3 111.1L449.8 110.6L448.3 108.8L446.8 107.5L445.3 107.9L443.8 110L442.3 107.5L440.8 104.8L439.3 103.7L437.8 103.9L436.3 106.9L434.8 107.3L433.3 109.2L431.8 111.6L430.3 111.4L428.8 110.2L427.3 108.7L425.8 109.7L424.3 111.9L422.8 112.8L421.3 112.2L419.8 111.1L418.3 111.5L416.8 111.9L415.3 111.1L413.8 110.7L412.3 112.9L410.8 115L409.3 114.6L407.8 113.4L406.3 111.9L404.8 113.1L403.3 115.1L401.8 113.2L400.3 113L398.8 115.2L397.3 113.4L395.8 114.4L394.3 117L392.8 117.2L391.3 117.5L389.8 115.2L388.3 114.2L386.8 116L385.3 116.2Z" fill="#41828c" fill-opacity="0.2"/>
<path d="M385 96.7L386.5 96.3L388 96.9L389.5 97.8L391 97.2L392.5 96L394 97.5L395.5 96.7L397 96L398.5 98.4L400 97.4L401.5 95.5L403 95.6L404.5 97.4L406 97.9L407.5 94.8L409 94.2L410.5 97.1L412 98.4L413.5 97.8L415 96.5L416.5 93.8L418 94.3L419.5 96.3L421 96.2L422.5 98.2L424 98.4L425.5 96.8L427 96.7L428.5 95.5L430 93.5L431.5 92.8L433 94.3L434.5 95.6L436 94.1L437.5 94.9L439 96L440.5 93.6L442 94.4L443.5 96.1L445 94.4L446.5 95.1L448 96.2L449.5 95.2L451 96.2L452.5 94.2L454 92.1L455.5 94.1L457 95.7L458.5 95.4L460 94L461.5 93.5L463 94.4L464.5 96.3L466 94.8L467.5 91.6L469 92.9L470.5 94.7L472 94.1L473.5 95.2L475 97.1L476.5 95.8L478 94.5L479.5 95.8L481 95.6L482.5 93.4L484 93.8L485.5 94.3L487 94.7L488.5 95.1L490 94.5L491.5 95.6L493 95.6L494.5 94.3L496 93.3L497.5 95.9L499 98.2L500.5 94.6L502 92.2L503.5 94.6L505 95.1L506.5 94.5L508 96.1L509.5 96.3L511 95.3L512.5 94.6L514 94.7L515.5 95.7L517 97.8L518.5 98.6L520 96.5L521.5 96.3L523 96.7L524.5 94L526 93.7L527.5 96.5L529 95.9L530.5 95.9L532 96.2L533.5 95.2L535 94.2L536.5 96.5L538 98.3L539.5 97.1L541 96.1L542.5 93.4L544 95.2L545.5 96.1L547 96.6L548.5 97.2L550 97.1L551.5 96.5L553 92.7L554.5 94.3L556 95.8L557.5 94.4L559 95.1L560.5 93.5L562 90.2L563.5 89.3L565 88.2L566.5 87L568 87.3L569.5 88.1L571 88.8L572.5 88.4L574 88.6L575.5 90.6L577 90.3L578.5 89.8L580 88.9L581.5 89L583 90.8L584.5 90L586 88.1L587.5 88.9L589 90.9L590.5 92.8L592 92.3L593.5 92.6L595 90.3L596.5 88.1L598 90.2L599.5 90.1L601 90.1L602.5 90.4L604 92.6L605.5 92.2L607 91.4L608.5 91.7L610 91.8L611.5 90.6L613 91.2L614.5 94.8L616 93.7L617.5 92.7L619 93.3L620.5 96.4L622 96.1L623.5 92.8L625 90.8L626.5 89.1L628 91.5L629.5 91.1L631 87.5L632.5 88.4L634 91.4L635.5 91.9L637 92L638.5 90.9L640 93.4L641.5 93.5L643 90.9L644.5 90.1L646 90.4L647.5 92.4L649 94.3L650.5 95.9L652 95L653.5 90.7L655 89.9L656.5 92.6L658 92.5L659.5 91L661 90.7L662.5 91.8L664 91.6L665.5 92.2L667 91.5L667 117.9L665.5 116.9L664 119.2L662.5 119.4L661 116.7L659.5 117.2L658 116.7L656.5 116.5L655 114.3L653.5 116L652 120.7L650.5 118.5L649 115.9L647.5 115.4L646 117.1L644.5 119.8L643 119.5L641.5 118.6L640 118.1L638.5 117.1L637 116.9L635.5 115.6L634 115.8L632.5 115.5L631 113.6L629.5 115.1L628 118.6L626.5 115.9L625 114L623.5 117.5L622 117L620.5 113.4L619 112.5L617.5 116.3L616 118.6L614.5 117.4L613 117L611.5 115.9L610 114.9L608.5 115.8L607 116.5L605.5 116.2L604 116.9L602.5 116.8L601 116.2L599.5 116.4L598 118L596.5 116.5L595 115.1L593.5 117.2L592 118.2L590.5 119.5L589 117.7L587.5 115.8L586 115.7L584.5 119.1L583 120.9L581.5 119.6L580 120.1L578.5 121.5L577 120.4L575.5 120L574 119.1L572.5 118L571 119.5L569.5 118.5L568 119.5L566.5 118.6L565 118.2L563.5 121.9L562 120.1L560.5 118.1L559 120.5L557.5 121.1L556 121.2L554.5 120.2L553 121.1L551.5 122.7L550 121L548.5 120.1L547 119.1L545.5 121.1L544 123.2L542.5 123.2L541 122.9L539.5 121.3L538 121L536.5 124.3L535 124.4L533.5 121.2L532 120.8L530.5 121L529 123.4L527.5 125.1L526 124.9L524.5 127.1L523 125.9L521.5 123.2L520 121.7L518.5 119.5L517 120.4L515.5 122.2L514 122.4L512.5 125L511 126.2L509.5 124.5L508 123.1L506.5 123.4L505 123.6L503.5 122.3L502 121.7L500.5 125.1L499 126.2L497.5 123.5L496 122.8L494.5 123.6L493 124.8L491.5 122.5L490 121.3L488.5 123.8L487 124.2L485.5 122.7L484 120.8L482.5 120.9L481 125L479.5 126.3L478 124L476.5 122.8L475 123.7L473.5 122.5L472 121.3L470.5 121.1L469 120.1L467.5 121.6L466 121.5L464.5 122.4L463 122.8L461.5 120.8L460 120L458.5 119.3L457 118.7L455.5 119.8L454 120.1L452.5 119.6L451 118.9L449.5 117.8L448 116L446.5 116L445 118.2L443.5 117.1L442 116L440.5 116.9L439 115.1L437.5 114.3L436 117.2L434.5 119.3L433 119.4L431.5 117.8L430 118.6L428.5 118.7L427 115.5L425.5 114.6L424 115.4L422.5 114.4L421 115.9L419.5 117.3L418 117.7L416.5 117L415 117.1L413.5 119.7L412 118.1L410.5 119.3L409 121.6L407.5 121.7L406 118.6L404.5 117.1L403 120L401.5 120.2L400 121.6L398.5 122.5L397 121.1L395.5 120.3L394 121.5L392.5 123.2L391 123L389.5 122.8L388 123.4L386.5 123.7L385 123.6Z" fill="#1a5028" fill-opacity="0.2"/>
<path d="M385.3 112.4L386.9 111.7L388.5 112.3L390.1 112L391.7 112.1L393.3 112.8L394.9 113L396.5 112.5L398.1 112.5L399.7 113L401.3 112.1L402.9 111.8L404.5 112.9L406.1 112.4L407.7 111.8L409.3 112.5L410.9 112.7L412.5 112.3L414.1 112L415.7 112.8L417.3 113.1L418.9 112.2L420.5 111.2L422.1 111.1L423.7 110.6L425.3 109.4L426.9 110.1L428.5 110.9L430.1 110.7L431.7 110.9L433.3 112L434.9 112.3L436.5 113.1L438.1 112.2L439.7 112.5L441.3 112.1L442.9 111.4L444.5 112.2L446.1 112.7L447.7 112.4L449.3 113.9L450.9 114L452.5 113.6L454.1 113.1L455.7 113.1L457.3 111.4L458.9 112.7L460.5 112.9L462.1 111.9L463.7 113.4L465.3 113.3L466.9 114.1L468.5 113.7L470.1 114.1L471.7 114.5L473.3 114.1L474.9 115.1L476.5 115.2L478.1 116L479.7 115.8L481.3 117.2L482.9 117.4L484.5 117L486.1 117.3L487.7 117.5L489.3 117.6L490.9 115.6L492.5 116.9L494.1 116.8L495.7 116.5L497.3 116.1L498.9 117.4L500.5 116.1L502.1 117L503.7 117.4L505.3 115.7L506.9 116.3L508.5 115.7L510.1 116.4L511.7 116.8L513.3 116.9L514.9 114.5L516.5 115L518.1 115.5L519.7 116L521.3 115.3L522.9 114.7L524.5 115.3L526.1 115.1L527.7 114.8L529.3 114.4L530.9 114.9L532.5 114.7L534.1 114.3L535.7 114.1L537.3 113.4L538.9 113.7L540.5 114.5L542.1 113.6L543.7 112.8L545.3 114.3L546.9 113.9L548.5 114.8L550.1 113.6L551.7 113.4L553.3 113.1L554.9 114.9L556.5 115.9L558.1 114.3L559.7 114.7L561.3 115.2L562.9 114.2L564.5 114.2L566.1 113.9L567.7 113.9L569.3 114.2L570.9 113.6L572.5 114.1L574.1 113.4L575.7 113.8L577.3 112L578.9 111.5L580.5 111.9L582.1 110.6L583.7 111.5L585.3 111.7L586.9 112.7L588.5 113.2L590.1 114.1L591.7 112.9L593.3 112L594.9 111.3L596.5 110.9L598.1 110L599.7 109.8L601.3 109.5L602.9 109.6L604.5 109.4L606.1 108.6L607.7 109.7L609.3 109.9L610.9 110.5L612.5 110.3L614.1 109.6L615.7 109.4L617.3 110.8L618.9 110.1L620.5 110.6L622.1 110.6L623.7 109L625.3 109.6L626.9 109.6L628.5 109.7L630.1 109.7L631.7 109.5L633.3 109.5L634.9 108.7L636.5 109.6L638.1 109.4L639.7 110L641.3 109.8L642.9 110.6L644.5 110.8L646.1 110.4L647.7 110.3L649.3 110L650.9 109.6L652.5 109.6L654.1 109.2L655.7 109.7L657.3 109.6L658.9 110.1L660.5 109.2L662.1 110.5L663.7 109.8L665.3 110" fill="none" stroke="#1a1a5e" stroke-width="2.3" stroke-linejoin="round" stroke-linecap="round"/>
<path d="M385.3 110.4L386.9 110.7L388.5 109.4L390.1 110.5L391.7 109.9L393.3 111.3L394.9 110.9L396.5 110.9L398.1 110.4L399.7 110.7L401.3 110.7L402.9 110.1L404.5 109.7L406.1 109.6L407.7 109.1L409.3 108.8L410.9 108.6L412.5 108.1L414.1 108.6L415.7 107L417.3 108L418.9 106.9L420.5 106.7L422.1 105.9L423.7 106.3L425.3 105.9L426.9 105.8L428.5 105.1L430.1 105.1L431.7 105.7L433.3 104.7L434.9 103.8L436.5 104.3L438.1 103.4L439.7 103.5L441.3 103.4L442.9 102.9L444.5 102.2L446.1 103.1L447.7 103.7L449.3 103.3L450.9 103.8L452.5 104L454.1 103L455.7 103.7L457.3 103.7L458.9 103.2L460.5 103.1L462.1 102.9L463.7 103.3L465.3 102.1L466.9 101.9L468.5 102.1L470.1 101.2L471.7 100.7L473.3 100.9L474.9 101.3L476.5 101.1L478.1 99.7L479.7 99.3L481.3 99.8L482.9 99.6L484.5 99.5L486.1 99.8L487.7 100L489.3 99.4L490.9 99.6L492.5 98.6L494.1 98.5L495.7 99.2L497.3 99.3L498.9 99.3L500.5 99.2L502.1 99.3L503.7 99.3L505.3 97.9L506.9 98.4L508.5 99L510.1 99.1L511.7 97.9L513.3 99.3L514.9 98.4L516.5 98.4L518.1 98.7L519.7 98.9L521.3 97.7L522.9 99L524.5 98.7L526.1 98.5L527.7 98.9L529.3 98.1L530.9 99.1L532.5 99.7L534.1 99.4L535.7 99.7L537.3 99.8L538.9 100L540.5 100.5L542.1 100L543.7 100L545.3 100.4L546.9 101.3L548.5 100.1L550.1 100.6L551.7 99.6L553.3 101.2L554.9 101L556.5 101.4L558.1 100.8L559.7 100.3L561.3 101.6L562.9 101.9L564.5 101.4L566.1 101.4L567.7 102.7L569.3 102.8L570.9 104.5L572.5 103.2L574.1 103.5L575.7 104.1L577.3 103.6L578.9 104.3L580.5 105.9L582.1 105.3L583.7 105.4L585.3 105.4L586.9 106.6L588.5 107L590.1 107.1L591.7 107L593.3 107.6L594.9 107.8L596.5 107.4L598.1 108.2L599.7 107L601.3 107.6L602.9 108.2L604.5 108.3L606.1 107.8L607.7 108.7L609.3 109.1L610.9 108.9L612.5 108.8L614.1 109.1L615.7 108.8L617.3 107.9L618.9 108.4L620.5 109.1L622.1 107.7L623.7 108.4L625.3 108.2L626.9 108L628.5 108L630.1 108.6L631.7 108.8L633.3 108.8L634.9 107.9L636.5 108.5L638.1 108.9L639.7 109.2L641.3 109.1L642.9 109.1L644.5 109.3L646.1 109.1L647.7 108.2L649.3 108.5L650.9 108.1L652.5 107.2L654.1 107.5L655.7 109.4L657.3 107.6L658.9 107L660.5 107.8L662.1 108.9L663.7 108L665.3 108.2" fill="none" stroke="#41828c" stroke-width="2.3" stroke-linejoin="round" stroke-linecap="round"/>
<path d="M385.3 109.6L386.9 108.8L388.5 108.4L390.1 108.9L391.7 109.5L393.3 109.6L394.9 110.2L396.5 109.2L398.1 110.6L399.7 109.4L401.3 109.6L402.9 108.7L404.5 108.9L406.1 108.2L407.7 107.1L409.3 107.5L410.9 106.7L412.5 108.2L414.1 107.3L415.7 108.5L417.3 108.8L418.9 108.4L420.5 108.1L422.1 106.9L423.7 106.3L425.3 106L426.9 105.2L428.5 104.9L430.1 104.6L431.7 105.8L433.3 105.1L434.9 106.3L436.5 107L438.1 108.6L439.7 108.9L441.3 108.5L442.9 107.9L444.5 107L446.1 106.6L447.7 106.1L449.3 104.6L450.9 105.7L452.5 106.2L454.1 107.5L455.7 108.2L457.3 109.1L458.9 109.6L460.5 111L462.1 109.4L463.7 108.5L465.3 107.4L466.9 107.9L468.5 108.1L470.1 108.9L471.7 110.7L473.3 112L474.9 112.8L476.5 110.8L478.1 111.1L479.7 110.6L481.3 111.2L482.9 112.9L484.5 114.5L486.1 113.5L487.7 113.2L489.3 113.9L490.9 112.4L492.5 110.4L494.1 108L495.7 108.3L497.3 108.5L498.9 107.4L500.5 108L502.1 110.1L503.7 110.8L505.3 110.7L506.9 110.8L508.5 111.4L510.1 111.2L511.7 111.9L513.3 112.3L514.9 110.8L516.5 110.5L518.1 109.4L519.7 109.8L521.3 110.5L522.9 109.4L524.5 110L526.1 110.3L527.7 110.3L529.3 110.8L530.9 110.2L532.5 108.9L534.1 109.3L535.7 108.9L537.3 108.8L538.9 110.1L540.5 108.5L542.1 109.1L543.7 108.4L545.3 108.9L546.9 108.3L548.5 107.9L550.1 107.5L551.7 107.8L553.3 107.6L554.9 108.5L556.5 108.6L558.1 109.1L559.7 107.7L561.3 106.6L562.9 105L564.5 104.5L566.1 101.3L567.7 100.5L569.3 99.3L570.9 98.2L572.5 98.5L574.1 99.4L575.7 100L577.3 99.8L578.9 101.6L580.5 100.3L582.1 99.3L583.7 98.6L585.3 99L586.9 100.5L588.5 100.6L590.1 101.6L591.7 101.5L593.3 103.3L594.9 105.1L596.5 103.8L598.1 103.3L599.7 102L601.3 102.3L602.9 102.2L604.5 101.6L606.1 101.2L607.7 102.2L609.3 102.6L610.9 103.1L612.5 104.8L614.1 106L615.7 105.3L617.3 104.8L618.9 105.5L620.5 103.7L622.1 103.1L623.7 104.4L625.3 103.2L626.9 102.4L628.5 102.8L630.1 103L631.7 104L633.3 104.4L634.9 102.2L636.5 102.6L638.1 100.3L639.7 100.9L641.3 102.4L642.9 103.9L644.5 105.1L646.1 106.1L647.7 106.5L649.3 108.1L650.9 107.5L652.5 105.7L654.1 104.8L655.7 103.1L657.3 101.9L658.9 102.1L660.5 102.5L662.1 102.9L663.7 103.4L665.3 105.4" fill="none" stroke="#1a5028" stroke-width="2.3" stroke-linejoin="round" stroke-linecap="round"/>
</g>
<line x1="381.6" y1="15.4" x2="670.6" y2="15.4" stroke="#222" stroke-width="1.05"/>
<line x1="670.6" y1="15.4" x2="670.6" y2="158.3" stroke="#222" stroke-width="1.05"/>
<line x1="381.6" y1="158.3" x2="670.6" y2="158.3" stroke="#2a2a2a" stroke-width="1.25"/>
<line x1="381.6" y1="15.4" x2="381.6" y2="158.3" stroke="#000" stroke-width="1.35"/>
<line x1="377.1" y1="158.3" x2="381.6" y2="158.3" stroke="#222" stroke-width="1.1"/>
<text x="373.3" y="162.5" font-size="11.8" text-anchor="end">−2</text>
<line x1="377.1" y1="134.5" x2="381.6" y2="134.5" stroke="#222" stroke-width="1.1"/>
<text x="373.3" y="138.7" font-size="11.8" text-anchor="end">−1</text>
<line x1="377.1" y1="110.7" x2="381.6" y2="110.7" stroke="#222" stroke-width="1.1"/>
<text x="373.3" y="114.9" font-size="11.8" text-anchor="end">0</text>
<line x1="377.1" y1="86.9" x2="381.6" y2="86.9" stroke="#222" stroke-width="1.1"/>
<text x="373.3" y="91.1" font-size="11.8" text-anchor="end">1</text>
<line x1="377.1" y1="63" x2="381.6" y2="63" stroke="#222" stroke-width="1.1"/>
<text x="373.3" y="67.2" font-size="11.8" text-anchor="end">2</text>
<line x1="377.1" y1="39.2" x2="381.6" y2="39.2" stroke="#222" stroke-width="1.1"/>
<text x="373.3" y="43.4" font-size="11.8" text-anchor="end">3</text>
<line x1="377.1" y1="15.4" x2="381.6" y2="15.4" stroke="#222" stroke-width="1.1"/>
<text x="373.3" y="19.6" font-size="11.8" text-anchor="end">4</text>
<line x1="381.7" y1="158.3" x2="381.7" y2="161.8" stroke="#333" stroke-width="1"/>
<line x1="396.2" y1="158.3" x2="396.2" y2="161.8" stroke="#333" stroke-width="1"/>
<line x1="410.6" y1="158.3" x2="410.6" y2="161.8" stroke="#333" stroke-width="1"/>
<line x1="425.1" y1="158.3" x2="425.1" y2="161.8" stroke="#333" stroke-width="1"/>
<line x1="439.5" y1="158.3" x2="439.5" y2="161.8" stroke="#333" stroke-width="1"/>
<line x1="454" y1="158.3" x2="454" y2="161.8" stroke="#333" stroke-width="1"/>
<line x1="468.4" y1="158.3" x2="468.4" y2="161.8" stroke="#333" stroke-width="1"/>
<line x1="482.9" y1="158.3" x2="482.9" y2="161.8" stroke="#333" stroke-width="1"/>
<line x1="497.3" y1="158.3" x2="497.3" y2="161.8" stroke="#333" stroke-width="1"/>
<line x1="511.8" y1="158.3" x2="511.8" y2="161.8" stroke="#333" stroke-width="1"/>
<line x1="526.2" y1="158.3" x2="526.2" y2="161.8" stroke="#333" stroke-width="1"/>
<line x1="540.7" y1="158.3" x2="540.7" y2="161.8" stroke="#333" stroke-width="1"/>
<line x1="555.1" y1="158.3" x2="555.1" y2="161.8" stroke="#333" stroke-width="1"/>
<line x1="569.6" y1="158.3" x2="569.6" y2="161.8" stroke="#333" stroke-width="1"/>
<line x1="584" y1="158.3" x2="584" y2="161.8" stroke="#333" stroke-width="1"/>
<line x1="598.5" y1="158.3" x2="598.5" y2="161.8" stroke="#333" stroke-width="1"/>
<line x1="612.9" y1="158.3" x2="612.9" y2="161.8" stroke="#333" stroke-width="1"/>
<line x1="627.4" y1="158.3" x2="627.4" y2="161.8" stroke="#333" stroke-width="1"/>
<line x1="641.8" y1="158.3" x2="641.8" y2="161.8" stroke="#333" stroke-width="1"/>
<line x1="656.2" y1="158.3" x2="656.2" y2="161.8" stroke="#333" stroke-width="1"/>
<line x1="670.6" y1="158.3" x2="670.6" y2="161.8" stroke="#333" stroke-width="1"/>
<text x="381.6" y="172" font-size="11.6" text-anchor="middle" textLength="23.8" lengthAdjust="spacingAndGlyphs">2001</text>
<text x="482.3" y="172" font-size="11.6" text-anchor="middle" textLength="23.8" lengthAdjust="spacingAndGlyphs">2140</text>
<text x="583.7" y="172" font-size="11.6" text-anchor="middle" textLength="23.8" lengthAdjust="spacingAndGlyphs">2280</text>
<text x="670.6" y="172" font-size="11.6" text-anchor="middle" textLength="23.8" lengthAdjust="spacingAndGlyphs">2400</text>
<text x="383" y="12.4" font-size="11" textLength="12.6" lengthAdjust="spacing">b)</text>
<text x="404.8" y="12.4" font-size="11" textLength="16.5" lengthAdjust="spacingAndGlyphs">NP</text>
<text x="430.2" y="12.4" font-size="11" textLength="50.5" lengthAdjust="spacing">(BTECx)</text>
<text transform="translate(353.1 86.9) rotate(-90)" font-size="11" text-anchor="middle" textLength="39" lengthAdjust="spacing">BTECx</text>
<line x1="139.7" y1="193.9" x2="139.7" y2="336.9" stroke="#444" stroke-width="1.1"/>
<line x1="241.5" y1="193.9" x2="241.5" y2="336.9" stroke="#444" stroke-width="1.0"/>
<g clip-path="url(#cpc)">
<path d="M42.4 283.2L43.9 283.3L45.4 280.6L46.9 285.2L48.4 284.7L49.9 281.5L51.4 281.1L52.9 281.4L54.4 279.5L55.9 278.4L57.4 283.3L58.9 284.5L60.4 282.3L61.9 282.7L63.4 283.6L64.9 283.3L66.4 283.5L67.9 281.3L69.4 281.2L70.9 282.2L72.4 282.3L73.9 282.9L75.4 280.5L76.9 280.2L78.4 280L79.9 281.2L81.4 282.2L82.9 281.9L84.4 280.4L85.9 281.1L87.4 282L88.9 281.6L90.4 282.9L91.9 279.8L93.4 279L94.9 279.6L96.4 279.7L97.9 282.1L99.4 282.3L100.9 282L102.4 279.9L103.9 279L105.4 281.1L106.9 281.8L108.4 280.2L109.9 279L111.4 279.9L112.9 276.8L114.4 274.6L115.9 276.7L117.4 276.2L118.9 273.7L120.4 275.9L121.9 277.4L123.4 275.7L124.9 275.9L126.4 276.2L127.9 275.9L129.4 276.3L130.9 277.2L132.4 279L133.9 277.6L135.4 275.5L136.9 275.5L138.4 273.8L139.9 274.2L141.4 276.8L142.9 275.7L144.4 275.9L145.9 276.5L147.4 277.1L148.9 279.7L150.4 278L151.9 273.8L153.4 273.6L154.9 274L156.4 272.2L157.9 272.9L159.4 275.6L160.9 275.9L162.4 274.1L163.9 272.1L165.4 271.9L166.9 272.9L168.4 274.6L169.9 275.7L171.4 274.9L172.9 275.5L174.4 275.4L175.9 276.8L177.4 277.9L178.9 276.6L180.4 276.4L181.9 277.7L183.4 279.5L184.9 278.7L186.4 278.5L187.9 277.4L189.4 275.3L190.9 274.2L192.4 275.5L193.9 276.1L195.4 273.9L196.9 276.4L198.4 277.1L199.9 275.3L201.4 277.4L202.9 278.3L204.4 278.4L205.9 278L207.4 277.5L208.9 279.2L210.4 278.2L211.9 279.2L213.4 278.9L214.9 276.6L216.4 277.5L217.9 279.2L219.4 279L220.9 277.6L222.4 278.6L223.9 281.1L225.4 280.6L226.9 277.8L228.4 278.4L229.9 281.1L231.4 280.8L232.9 280.4L234.4 279.1L235.9 279.3L237.4 282L238.9 283.1L240.4 283.6L241.9 283.9L243.4 282.5L244.9 282.6L246.4 281.8L247.9 280.1L249.4 283.3L250.9 285L252.4 281.1L253.9 280L255.4 280.9L256.9 278.6L258.4 278.8L259.9 279.4L261.4 281L262.9 279.1L264.4 277L265.9 279.1L267.4 277.9L268.9 280L270.4 284.5L271.9 282.3L273.4 280.6L274.9 280.5L276.4 279.7L277.9 278.4L279.4 278.8L280.9 278.5L282.4 279.4L283.9 281.5L285.4 283.1L286.9 280.8L288.4 278L289.9 278.8L291.4 279.1L292.9 281.6L294.4 280.9L295.9 278.9L297.4 278.2L298.9 280.2L300.4 283.8L301.9 284.8L303.4 283.1L304.9 280.2L306.4 279.5L307.9 278.7L309.4 277.1L310.9 280.3L312.4 281.9L313.9 280.9L315.4 281L316.9 282.2L318.4 284.3L319.9 281.7L321.4 279.5L322.9 279.6L322.9 293.1L321.4 293.7L319.9 293.4L318.4 293.2L316.9 293.2L315.4 292.6L313.9 293.9L312.4 292.6L310.9 291.2L309.4 291.9L307.9 292L306.4 293.6L304.9 294.1L303.4 292.7L301.9 294.2L300.4 295.6L298.9 293.3L297.4 296.2L295.9 297.9L294.4 296.2L292.9 294.1L291.4 293.1L289.9 294.1L288.4 294.3L286.9 292.6L285.4 290.9L283.9 290.7L282.4 290L280.9 288.6L279.4 289.1L277.9 292.6L276.4 293.5L274.9 292.5L273.4 295.2L271.9 295.7L270.4 293.6L268.9 294.3L267.4 294.3L265.9 293.8L264.4 292.4L262.9 289.3L261.4 289.2L259.9 290.7L258.4 290.7L256.9 291.3L255.4 292.5L253.9 294.4L252.4 293.9L250.9 296L249.4 298.8L247.9 296L246.4 294.4L244.9 296.7L243.4 298.5L241.9 296L240.4 292.6L238.9 290.8L237.4 291.7L235.9 294.4L234.4 295.9L232.9 295.6L231.4 293.8L229.9 294.1L228.4 296.5L226.9 292.8L225.4 288.7L223.9 289.8L222.4 290.8L220.9 290.1L219.4 290.3L217.9 290.2L216.4 288.5L214.9 288.8L213.4 289.2L211.9 288.1L210.4 289.2L208.9 289.7L207.4 286.9L205.9 287.5L204.4 289.3L202.9 288.4L201.4 289.6L199.9 288.9L198.4 287.5L196.9 286.4L195.4 286.4L193.9 289.9L192.4 290.3L190.9 289.9L189.4 288.8L187.9 287.8L186.4 289L184.9 288.8L183.4 286.2L181.9 285.3L180.4 286.3L178.9 290L177.4 290.5L175.9 287.6L174.4 287L172.9 287L171.4 288.6L169.9 286L168.4 285.7L166.9 288.2L165.4 289L163.9 290.4L162.4 290.1L160.9 285.7L159.4 285.2L157.9 289.9L156.4 288.7L154.9 289.9L153.4 292.1L151.9 290.5L150.4 289.4L148.9 288.7L147.4 289.2L145.9 289L144.4 290.4L142.9 289L141.4 285.8L139.9 286.1L138.4 288.5L136.9 289.1L135.4 289.6L133.9 292.3L132.4 290.4L130.9 289.6L129.4 292.1L127.9 291.2L126.4 288.8L124.9 287.4L123.4 286.7L121.9 287.3L120.4 287.3L118.9 288.3L117.4 289.2L115.9 288L114.4 287.4L112.9 289.4L111.4 292.1L109.9 290.8L108.4 291L106.9 291.8L105.4 292.4L103.9 294.2L102.4 295.4L100.9 295L99.4 292.9L97.9 292.8L96.4 293.8L94.9 293.1L93.4 291.8L91.9 291L90.4 292.7L88.9 294.8L87.4 294L85.9 292L84.4 294.4L82.9 294.6L81.4 292.2L79.9 294.7L78.4 294L76.9 291.8L75.4 292.4L73.9 293.8L72.4 293.8L70.9 295.2L69.4 296.8L67.9 296.5L66.4 297.2L64.9 296.5L63.4 295.3L61.9 296.9L60.4 295.3L58.9 293.5L57.4 293.1L55.9 291.9L54.4 294.2L52.9 295.6L51.4 294.7L49.9 293.7L48.4 293.3L46.9 294.1L45.4 291.6L43.9 290.6L42.4 295.1Z" fill="#e06e0f" fill-opacity="0.2"/>
<path d="M42.4 260.2L43.9 254.4L45.4 255.8L46.9 260.8L48.4 262.8L49.9 265.3L51.4 267.2L52.9 268.8L54.4 270L55.9 266.6L57.4 263.5L58.9 262.2L60.4 263.1L61.9 264.6L63.4 265.2L64.9 264.8L66.4 264.9L67.9 264L69.4 263L70.9 261.1L72.4 261.4L73.9 261.7L75.4 259.2L76.9 260.9L78.4 260.9L79.9 258.1L81.4 260.3L82.9 262.7L84.4 260.6L85.9 260.6L87.4 260L88.9 259.5L90.4 259.7L91.9 259.5L93.4 256.1L94.9 253.1L96.4 251.8L97.9 252.4L99.4 254.5L100.9 253.8L102.4 253.1L103.9 254.1L105.4 252.1L106.9 250.7L108.4 251L109.9 249.7L111.4 248.4L112.9 244.9L114.4 244.5L115.9 245.9L117.4 245.7L118.9 248.1L120.4 248.3L121.9 247.2L123.4 244.1L124.9 243.5L126.4 245.6L127.9 243.5L129.4 239L130.9 237.1L132.4 237.8L133.9 236.1L135.4 235.1L136.9 234.3L138.4 234.1L139.9 232.5L141.4 229.5L142.9 228.2L144.4 229L145.9 229.2L147.4 229.4L148.9 234.2L150.4 236.7L151.9 235.1L153.4 239.3L154.9 245.6L156.4 248.2L157.9 248.2L159.4 251.7L160.9 251.7L162.4 250.7L163.9 251.8L165.4 247.8L166.9 245L168.4 243.2L169.9 243.1L171.4 247.5L172.9 248.3L174.4 249.2L175.9 252.4L177.4 253.8L178.9 255L180.4 254.9L181.9 252.3L183.4 249.7L184.9 251.8L186.4 251.1L187.9 249.8L189.4 249.2L190.9 251.3L192.4 254.5L193.9 253.6L195.4 254.1L196.9 257.3L198.4 258.1L199.9 258.8L201.4 258.1L202.9 258.7L204.4 259.7L205.9 258.8L207.4 256.9L208.9 257.7L210.4 259.9L211.9 258.5L213.4 258.1L214.9 261.2L216.4 264.2L217.9 267.2L219.4 268.7L220.9 268.9L222.4 269.1L223.9 271.4L225.4 273.6L226.9 272.9L228.4 272.8L229.9 272.3L231.4 274.8L232.9 274.8L234.4 273.1L235.9 274.4L237.4 272L238.9 269L240.4 270L241.9 270.5L243.4 268L244.9 265.7L246.4 265.6L247.9 266.1L249.4 268.6L250.9 270.6L252.4 271.4L253.9 274.4L255.4 277.4L256.9 276.4L258.4 274.5L259.9 273.3L261.4 272.1L262.9 272.2L264.4 274.2L265.9 274.9L267.4 271.3L268.9 271.5L270.4 273.7L271.9 272L273.4 271.7L274.9 273.6L276.4 274.6L277.9 279.6L279.4 281.9L280.9 279.7L282.4 279.5L283.9 278.2L285.4 276.1L286.9 276L288.4 274.7L289.9 272.5L291.4 272.2L292.9 273.4L294.4 271.6L295.9 268.5L297.4 269.2L298.9 268.2L300.4 266.7L301.9 268.2L303.4 268.3L304.9 267.6L306.4 269.8L307.9 270.7L309.4 269.8L310.9 267.8L312.4 269.8L313.9 273.2L315.4 271.5L316.9 272.3L318.4 274.7L319.9 273.8L321.4 270.3L322.9 270.5L322.9 304.8L321.4 309.2L319.9 309.5L318.4 307.8L316.9 309.9L315.4 308.8L313.9 306L312.4 308L310.9 308.7L309.4 307.8L307.9 307.3L306.4 307.2L304.9 309.6L303.4 312.5L301.9 311.6L300.4 311.9L298.9 311.3L297.4 309.5L295.9 309.5L294.4 306.4L292.9 305.4L291.4 307.5L289.9 307.5L288.4 308.4L286.9 307.6L285.4 306.6L283.9 308.9L282.4 308.6L280.9 308.9L279.4 311L277.9 310.6L276.4 309.5L274.9 309.8L273.4 312L271.9 312L270.4 310.4L268.9 310.7L267.4 309.8L265.9 309.5L264.4 309.1L262.9 308.3L261.4 310L259.9 309.4L258.4 310.6L256.9 313.4L255.4 311.7L253.9 312.2L252.4 314.6L250.9 313.4L249.4 312.8L247.9 312.7L246.4 312.8L244.9 313.4L243.4 311.6L241.9 309.5L240.4 310.5L238.9 311.8L237.4 314.8L235.9 317.2L234.4 316.4L232.9 315.8L231.4 317.2L229.9 317.2L228.4 315.5L226.9 315.2L225.4 314.7L223.9 316.4L222.4 314.2L220.9 312.9L219.4 315.3L217.9 314.3L216.4 312.1L214.9 310.6L213.4 309.9L211.9 310L210.4 310.1L208.9 308.8L207.4 308.1L205.9 306.4L204.4 305.3L202.9 303.6L201.4 302.3L199.9 302.6L198.4 304.1L196.9 302L195.4 298.9L193.9 301.3L192.4 300.3L190.9 297.2L189.4 297.5L187.9 299.1L186.4 299.4L184.9 298.3L183.4 300.5L181.9 301.1L180.4 299.9L178.9 300.8L177.4 300.2L175.9 300L174.4 300.1L172.9 300.1L171.4 299.9L169.9 298.4L168.4 298.3L166.9 298.8L165.4 295.8L163.9 296.3L162.4 297.3L160.9 296.5L159.4 295.6L157.9 295.8L156.4 294.3L154.9 289.5L153.4 283.7L151.9 277.7L150.4 273.3L148.9 272.3L147.4 271.6L145.9 271.8L144.4 271L142.9 269.7L141.4 272.1L139.9 275.3L138.4 276.7L136.9 277.2L135.4 278.8L133.9 281.3L132.4 285.2L130.9 286.8L129.4 286.3L127.9 284.9L126.4 284.8L124.9 287L123.4 287.8L121.9 287.7L120.4 286.4L118.9 286.3L117.4 287.6L115.9 287.9L114.4 289.4L112.9 290.6L111.4 289.2L109.9 288.9L108.4 289.5L106.9 292.2L105.4 291.6L103.9 288.6L102.4 289.6L100.9 288.4L99.4 289.2L97.9 291.9L96.4 291.9L94.9 291L93.4 290.4L91.9 294.8L90.4 303.6L88.9 311.3L87.4 307.6L85.9 303.9L84.4 304.6L82.9 306.5L81.4 305.2L79.9 304.2L78.4 305.2L76.9 306.3L75.4 307.2L73.9 307.3L72.4 306.5L70.9 304.9L69.4 307L67.9 308.8L66.4 304.4L64.9 303L63.4 305.2L61.9 306.9L60.4 306L58.9 307.1L57.4 310L55.9 309.1L54.4 307.9L52.9 308.8L51.4 309.3L49.9 309L48.4 306.8L46.9 307.6L45.4 310.4L43.9 308L42.4 306.4Z" fill="#87050a" fill-opacity="0.2"/>
<path d="M42.4 269.2L43.9 268L45.4 265.9L46.9 265.1L48.4 263L49.9 259.6L51.4 257.3L52.9 255.7L54.4 253.2L55.9 253.5L57.4 253.8L58.9 253.9L60.4 253.9L61.9 252.2L63.4 252.1L64.9 251.2L66.4 251.6L67.9 250.3L69.4 250L70.9 249.5L72.4 250L73.9 251.8L75.4 251.2L76.9 252.5L78.4 248.8L79.9 246.2L81.4 248.8L82.9 249.9L84.4 250.8L85.9 250.8L87.4 250.9L88.9 249.5L90.4 247.7L91.9 247L93.4 247.3L94.9 245.9L96.4 244.2L97.9 245.4L99.4 245.6L100.9 244.2L102.4 243.5L103.9 243.5L105.4 241.4L106.9 237.1L108.4 235.1L109.9 237.6L111.4 239.3L112.9 238.3L114.4 238.6L115.9 237.4L117.4 239L118.9 240L120.4 236.4L121.9 237.9L123.4 236.7L124.9 233.5L126.4 233.2L127.9 231.1L129.4 228.9L130.9 229.7L132.4 231.7L133.9 232.5L135.4 234.8L136.9 237.3L138.4 238.3L139.9 233L141.4 232.6L142.9 236.7L144.4 236.5L145.9 235.2L147.4 234.6L148.9 235.8L150.4 235.2L151.9 237L153.4 239.6L154.9 238.3L156.4 237L157.9 239.2L159.4 241.7L160.9 242.1L162.4 240L163.9 240.3L165.4 239.5L166.9 237.9L168.4 235.2L169.9 233.1L171.4 236.9L172.9 235.5L174.4 236.5L175.9 239.3L177.4 239.2L178.9 239.9L180.4 238.7L181.9 239.1L183.4 240.6L184.9 240.7L186.4 240.1L187.9 239.8L189.4 243.1L190.9 244L192.4 242.9L193.9 243.7L195.4 245.4L196.9 247L198.4 247L199.9 247.6L201.4 248.3L202.9 246.5L204.4 245.3L205.9 243.3L207.4 241.6L208.9 242.8L210.4 240.8L211.9 240.8L213.4 242.6L214.9 242L216.4 242.1L217.9 243.5L219.4 245.6L220.9 248.8L222.4 250.7L223.9 252L225.4 254.7L226.9 253.2L228.4 249.6L229.9 249.6L231.4 250.3L232.9 252L234.4 254.4L235.9 257.3L237.4 255.6L238.9 252.8L240.4 253.3L241.9 252.7L243.4 251.8L244.9 254.2L246.4 255L247.9 253.9L249.4 257.9L250.9 261L252.4 262.7L253.9 260.6L255.4 257.1L256.9 256.4L258.4 255.8L259.9 258.9L261.4 258.5L262.9 254.9L264.4 257.2L265.9 258.8L267.4 258.8L268.9 262.6L270.4 266.5L271.9 268.9L273.4 265.1L274.9 263.3L276.4 263.4L277.9 261.3L279.4 258.4L280.9 257.1L282.4 256.8L283.9 256.5L285.4 259.4L286.9 262.1L288.4 261.2L289.9 262.6L291.4 263.7L292.9 261.4L294.4 260.1L295.9 259.7L297.4 256.6L298.9 255.6L300.4 258.9L301.9 258.8L303.4 256.4L304.9 255.4L306.4 257.7L307.9 261.3L309.4 259.5L310.9 257.7L312.4 260.6L313.9 262.8L315.4 263.3L316.9 263.4L318.4 262.9L319.9 259L321.4 256.2L322.9 253.7L322.9 286.3L321.4 289.9L319.9 291.9L318.4 292.8L316.9 293.7L315.4 293.6L313.9 293.2L312.4 294.1L310.9 293.6L309.4 292.2L307.9 293.2L306.4 292.9L304.9 292.2L303.4 291.9L301.9 292.4L300.4 291L298.9 290.7L297.4 292.8L295.9 293.3L294.4 293.8L292.9 295.1L291.4 295.7L289.9 295.6L288.4 296.3L286.9 292.8L285.4 289.5L283.9 289.8L282.4 289.5L280.9 288.1L279.4 291.6L277.9 293.5L276.4 294.4L274.9 298.6L273.4 298.9L271.9 298.7L270.4 298.2L268.9 296.7L267.4 294.8L265.9 292.4L264.4 290.1L262.9 290.2L261.4 291.5L259.9 293.5L258.4 293.7L256.9 291.1L255.4 288.9L253.9 291.2L252.4 293.1L250.9 291.4L249.4 288.9L247.9 285.9L246.4 285.2L244.9 283.4L243.4 280.8L241.9 282.2L240.4 285.6L238.9 287.3L237.4 288.4L235.9 289.8L234.4 287.9L232.9 286.7L231.4 286.8L229.9 286.4L228.4 284.6L226.9 284.1L225.4 285.8L223.9 284.8L222.4 280.6L220.9 279.7L219.4 279.4L217.9 278.1L216.4 279.4L214.9 273.6L213.4 269.6L211.9 271.7L210.4 271.9L208.9 272.7L207.4 273.9L205.9 277.2L204.4 277.1L202.9 278.1L201.4 281.9L199.9 283.5L198.4 280.9L196.9 277.5L195.4 275.2L193.9 275L192.4 275.9L190.9 274.5L189.4 275.7L187.9 277L186.4 273.9L184.9 272.6L183.4 272.2L181.9 272.1L180.4 274.6L178.9 273.4L177.4 274.1L175.9 276.3L174.4 270.6L172.9 266.7L171.4 269L169.9 267.9L168.4 267.4L166.9 266.2L165.4 267.8L163.9 270.5L162.4 270.5L160.9 272.5L159.4 272.1L157.9 271.1L156.4 270.1L154.9 270.4L153.4 269.8L151.9 267.4L150.4 267.5L148.9 270L147.4 269L145.9 270L144.4 271.3L142.9 267.8L141.4 265.8L139.9 267.7L138.4 268.2L136.9 265.5L135.4 265.4L133.9 261.8L132.4 260.8L130.9 261.2L129.4 263L127.9 266.9L126.4 268.7L124.9 268.7L123.4 266.7L121.9 269.3L120.4 271.1L118.9 269L117.4 269.8L115.9 272.4L114.4 271L112.9 268.6L111.4 268.6L109.9 270L108.4 272.2L106.9 273L105.4 273L103.9 274.4L102.4 277L100.9 275.7L99.4 274.9L97.9 273.5L96.4 272.5L94.9 277.9L93.4 280.2L91.9 278.1L90.4 279.2L88.9 282.3L87.4 282.3L85.9 281.3L84.4 280.8L82.9 282.2L81.4 282L79.9 283.5L78.4 284.1L76.9 281.5L75.4 284.7L73.9 285.6L72.4 282.7L70.9 283.2L69.4 284.1L67.9 282.7L66.4 284.2L64.9 283L63.4 283.8L61.9 287.7L60.4 288.4L58.9 287L57.4 287.8L55.9 290.4L54.4 288.9L52.9 287.7L51.4 289.1L49.9 289.9L48.4 293.6L46.9 298.3L45.4 299.8L43.9 301.2L42.4 302.4Z" fill="#e6698c" fill-opacity="0.2"/>
<path d="M42.4 285.9L44 287.6L45.6 286.3L47.2 288.2L48.8 287.7L50.4 287.3L52 288.3L53.6 287.7L55.2 288.1L56.8 288L58.4 288.6L60 288.8L61.6 288.1L63.2 288.3L64.8 288.8L66.4 288.5L68 287.5L69.6 289.5L71.2 287.3L72.8 287.1L74.4 287.3L76 288L77.6 288.3L79.2 287.2L80.8 286.9L82.4 287L84 286.5L85.6 286.6L87.2 285.8L88.8 286.5L90.4 286.3L92 284.9L93.6 285.9L95.2 286L96.8 286.1L98.4 285.4L100 285.1L101.6 285.5L103.2 286.4L104.8 285.9L106.4 285.8L108 286.2L109.6 284.8L111.2 284.3L112.8 284.2L114.4 283.9L116 283.9L117.6 282.6L119.2 281.9L120.8 282.2L122.4 282.1L124 281.1L125.6 282.1L127.2 283L128.8 283.4L130.4 283.5L132 282.9L133.6 282.2L135.2 281.8L136.8 282.4L138.4 281.1L140 282L141.6 280.8L143.2 283.1L144.8 281.1L146.4 283L148 282.1L149.6 283L151.2 282.8L152.8 282.3L154.4 283.4L156 281.7L157.6 280.4L159.2 280.6L160.8 280.7L162.4 280L164 280.9L165.6 281.1L167.2 281.8L168.8 282.1L170.4 281.7L172 281.4L173.6 281.9L175.2 281.9L176.8 281.3L178.4 282L180 282.3L181.6 282.7L183.2 284.2L184.8 282.7L186.4 282.8L188 283.1L189.6 282.5L191.2 282.5L192.8 282.9L194.4 282.5L196 282.6L197.6 283L199.2 283L200.8 282.7L202.4 282.7L204 283.4L205.6 284L207.2 283L208.8 283.5L210.4 282.9L212 282.8L213.6 281.9L215.2 283.6L216.8 283.6L218.4 283.2L220 284.5L221.6 284.6L223.2 285.2L224.8 285.1L226.4 285.9L228 285.9L229.6 286.9L231.2 286.7L232.8 286.3L234.4 287.4L236 287.6L237.6 287.8L239.2 287.6L240.8 289L242.4 288.3L244 289.6L245.6 288.8L247.2 289L248.8 288.7L250.4 288.7L252 289.7L253.6 287.6L255.2 287.7L256.8 286.4L258.4 285.1L260 285.6L261.6 285.5L263.2 285.7L264.8 284.8L266.4 286.2L268 286.3L269.6 286.8L271.2 286.8L272.8 286.9L274.4 287.4L276 286L277.6 284.2L279.2 285.2L280.8 284.9L282.4 285.2L284 284.5L285.6 285.8L287.2 285.7L288.8 286.7L290.4 286.8L292 287.4L293.6 287.2L295.2 286.8L296.8 288.4L298.4 288.4L300 287.8L301.6 287.5L303.2 287.2L304.8 286.6L306.4 286.6L308 286.9L309.6 287.7L311.2 287.1L312.8 287.7L314.4 286.4L316 287.5L317.6 286.7L319.2 287.6L320.8 287.5L322.4 286.9" fill="none" stroke="#e06e0f" stroke-width="2.3" stroke-linejoin="round" stroke-linecap="round"/>
<path d="M42.4 286.5L44 283.6L45.6 285L47.2 288.5L48.8 289.7L50.4 290.2L52 291.6L53.6 291.3L55.2 290.7L56.8 288.8L58.4 288L60 286.9L61.6 285L63.2 284.4L64.8 284.9L66.4 286.2L68 285.2L69.6 284.8L71.2 283.5L72.8 283.1L74.4 280.9L76 280.2L77.6 280.5L79.2 280L80.8 280.1L82.4 280.6L84 279.3L85.6 281.3L87.2 282.6L88.8 282.3L90.4 281.6L92 279.3L93.6 276.4L95.2 271.2L96.8 269.5L98.4 272.2L100 272.1L101.6 273L103.2 272.4L104.8 272.5L106.4 272L108 269.6L109.6 268.4L111.2 265.6L112.8 266.9L114.4 266.6L116 266.3L117.6 265.8L119.2 268.1L120.8 265.3L122.4 265L124 263.2L125.6 262.9L127.2 261.6L128.8 260.3L130.4 259.7L132 258.2L133.6 258.9L135.2 256.4L136.8 255.7L138.4 254.6L140 251L141.6 249.1L143.2 249.8L144.8 250.2L146.4 249.6L148 251.2L149.6 255.8L151.2 256.5L152.8 258.1L154.4 261.8L156 264L157.6 265.5L159.2 268.4L160.8 269.6L162.4 268.9L164 267.2L165.6 265L167.2 265.6L168.8 263.9L170.4 266.3L172 268.8L173.6 268.7L175.2 270.6L176.8 273.1L178.4 273.2L180 271.8L181.6 271.2L183.2 268.8L184.8 268.5L186.4 270L188 271.4L189.6 272.2L191.2 273.2L192.8 272.9L194.4 271.6L196 272.9L197.6 274.3L199.2 276.7L200.8 278.9L202.4 279.1L204 278.7L205.6 278.3L207.2 277L208.8 279.3L210.4 280.6L212 279.3L213.6 278.9L215.2 281.6L216.8 284.2L218.4 286.1L220 289.1L221.6 290.7L223.2 290.8L224.8 291.4L226.4 291.2L228 292.7L229.6 293.5L231.2 294.3L232.8 294.4L234.4 292.3L236 292.5L237.6 291.8L239.2 290.4L240.8 290L242.4 288.8L244 287.1L245.6 285.9L247.2 287.5L248.8 288.7L250.4 289.5L252 289.5L253.6 291.5L255.2 295.2L256.8 296.3L258.4 294.6L260 293.9L261.6 295.4L263.2 294.3L264.8 294.5L266.4 293.7L268 291.4L269.6 292L271.2 290.7L272.8 291.7L274.4 293L276 295.2L277.6 297.8L279.2 299.5L280.8 299.4L282.4 300.5L284 299.1L285.6 297.9L287.2 296.6L288.8 296.1L290.4 294.6L292 293.6L293.6 294.1L295.2 291.8L296.8 290.6L298.4 290L300 289.2L301.6 286.6L303.2 286.7L304.8 287.2L306.4 288.5L308 289.3L309.6 290.9L311.2 289.7L312.8 292.1L314.4 291.1L316 291.1L317.6 291.9L319.2 291.5L320.8 291.3L322.4 290.6" fill="none" stroke="#87050a" stroke-width="2.3" stroke-linejoin="round" stroke-linecap="round"/>
<path d="M42.4 287.4L44 287.1L45.6 284.9L47.2 281.2L48.8 279.3L50.4 276L52 272.9L53.6 273L55.2 273.1L56.8 272.1L58.4 272.7L60 272.9L61.6 270.3L63.2 269.3L64.8 269.1L66.4 268.9L68 267.9L69.6 268.1L71.2 267.5L72.8 268.6L74.4 269.6L76 268.3L77.6 268.2L79.2 266.5L80.8 266.6L82.4 266L84 265.7L85.6 266.1L87.2 266.9L88.8 267.1L90.4 265.3L92 265.2L93.6 263.2L95.2 262.9L96.8 261.1L98.4 261L100 260.7L101.6 262.4L103.2 262.2L104.8 260.4L106.4 258.4L108 255.5L109.6 256.3L111.2 256.8L112.8 256.9L114.4 256.4L116 256.3L117.6 255.8L119.2 255.1L120.8 254.2L122.4 254.1L124 254.1L125.6 252.9L127.2 251.3L128.8 248.9L130.4 246.5L132 249L133.6 250.4L135.2 250.7L136.8 251.7L138.4 253L140 252.1L141.6 251.2L143.2 253.6L144.8 254.2L146.4 254.4L148 254.3L149.6 254L151.2 255.6L152.8 256.1L154.4 255.7L156 255.3L157.6 257.2L159.2 257.1L160.8 257.1L162.4 257.4L164 254.7L165.6 254.9L167.2 254.2L168.8 253.6L170.4 254.9L172 255.4L173.6 256.5L175.2 259.3L176.8 260.2L178.4 260.4L180 258.3L181.6 257.9L183.2 257.4L184.8 257.7L186.4 258.6L188 259.7L189.6 260.2L191.2 261.4L192.8 261.2L194.4 263.2L196 263L197.6 263L199.2 262.9L200.8 264.4L202.4 264.8L204 262.6L205.6 262.6L207.2 261.6L208.8 260.1L210.4 258.8L212 258.6L213.6 259L215.2 261.5L216.8 263.4L218.4 265.6L220 266.8L221.6 268.1L223.2 267.3L224.8 268.9L226.4 269.5L228 269.6L229.6 272L231.2 272.9L232.8 273.3L234.4 273L236 274.7L237.6 272.9L239.2 272.3L240.8 271L242.4 270.9L244 270.2L245.6 270.6L247.2 272L248.8 273.3L250.4 277.7L252 278.2L253.6 278.1L255.2 276.7L256.8 274.9L258.4 274.2L260 276.6L261.6 276.6L263.2 276.1L264.8 278.1L266.4 278.2L268 278.5L269.6 279.7L271.2 283L272.8 284.6L274.4 282.6L276 280.3L277.6 278.2L279.2 276.7L280.8 275.3L282.4 276L284 276L285.6 277.3L287.2 279L288.8 281.5L290.4 280.8L292 280.2L293.6 278.3L295.2 276.3L296.8 275.6L298.4 276.2L300 276.5L301.6 276.3L303.2 276.2L304.8 275.9L306.4 276.8L308 278.3L309.6 278L311.2 278.6L312.8 279.8L314.4 280.8L316 280.1L317.6 278.5L319.2 278.8L320.8 277.5L322.4 274.1" fill="none" stroke="#b95f73" stroke-width="2.3" stroke-linejoin="round" stroke-linecap="round"/>
</g>
<line x1="38.6" y1="193.9" x2="327.6" y2="193.9" stroke="#222" stroke-width="1.05"/>
<line x1="327.6" y1="193.9" x2="327.6" y2="336.9" stroke="#222" stroke-width="1.05"/>
<line x1="38.6" y1="336.9" x2="327.6" y2="336.9" stroke="#2a2a2a" stroke-width="1.25"/>
<line x1="38.6" y1="193.9" x2="38.6" y2="336.9" stroke="#000" stroke-width="1.35"/>
<line x1="34.1" y1="336.9" x2="38.6" y2="336.9" stroke="#222" stroke-width="1.1"/>
<text x="30.3" y="341.1" font-size="11.8" text-anchor="end">−2</text>
<line x1="34.1" y1="313.1" x2="38.6" y2="313.1" stroke="#222" stroke-width="1.1"/>
<text x="30.3" y="317.3" font-size="11.8" text-anchor="end">−1</text>
<line x1="34.1" y1="289.2" x2="38.6" y2="289.2" stroke="#222" stroke-width="1.1"/>
<text x="30.3" y="293.4" font-size="11.8" text-anchor="end">0</text>
<line x1="34.1" y1="265.4" x2="38.6" y2="265.4" stroke="#222" stroke-width="1.1"/>
<text x="30.3" y="269.6" font-size="11.8" text-anchor="end">1</text>
<line x1="34.1" y1="241.6" x2="38.6" y2="241.6" stroke="#222" stroke-width="1.1"/>
<text x="30.3" y="245.8" font-size="11.8" text-anchor="end">2</text>
<line x1="34.1" y1="217.7" x2="38.6" y2="217.7" stroke="#222" stroke-width="1.1"/>
<text x="30.3" y="221.9" font-size="11.8" text-anchor="end">3</text>
<line x1="34.1" y1="193.9" x2="38.6" y2="193.9" stroke="#222" stroke-width="1.1"/>
<text x="30.3" y="198.1" font-size="11.8" text-anchor="end">4</text>
<line x1="38.7" y1="336.9" x2="38.7" y2="340.3" stroke="#333" stroke-width="1"/>
<line x1="53.2" y1="336.9" x2="53.2" y2="340.3" stroke="#333" stroke-width="1"/>
<line x1="67.6" y1="336.9" x2="67.6" y2="340.3" stroke="#333" stroke-width="1"/>
<line x1="82" y1="336.9" x2="82" y2="340.3" stroke="#333" stroke-width="1"/>
<line x1="96.5" y1="336.9" x2="96.5" y2="340.3" stroke="#333" stroke-width="1"/>
<line x1="111" y1="336.9" x2="111" y2="340.3" stroke="#333" stroke-width="1"/>
<line x1="125.4" y1="336.9" x2="125.4" y2="340.3" stroke="#333" stroke-width="1"/>
<line x1="139.8" y1="336.9" x2="139.8" y2="340.3" stroke="#333" stroke-width="1"/>
<line x1="154.3" y1="336.9" x2="154.3" y2="340.3" stroke="#333" stroke-width="1"/>
<line x1="168.8" y1="336.9" x2="168.8" y2="340.3" stroke="#333" stroke-width="1"/>
<line x1="183.2" y1="336.9" x2="183.2" y2="340.3" stroke="#333" stroke-width="1"/>
<line x1="197.6" y1="336.9" x2="197.6" y2="340.3" stroke="#333" stroke-width="1"/>
<line x1="212.1" y1="336.9" x2="212.1" y2="340.3" stroke="#333" stroke-width="1"/>
<line x1="226.6" y1="336.9" x2="226.6" y2="340.3" stroke="#333" stroke-width="1"/>
<line x1="241" y1="336.9" x2="241" y2="340.3" stroke="#333" stroke-width="1"/>
<line x1="255.4" y1="336.9" x2="255.4" y2="340.3" stroke="#333" stroke-width="1"/>
<line x1="269.9" y1="336.9" x2="269.9" y2="340.3" stroke="#333" stroke-width="1"/>
<line x1="284.3" y1="336.9" x2="284.3" y2="340.3" stroke="#333" stroke-width="1"/>
<line x1="298.8" y1="336.9" x2="298.8" y2="340.3" stroke="#333" stroke-width="1"/>
<line x1="313.2" y1="336.9" x2="313.2" y2="340.3" stroke="#333" stroke-width="1"/>
<line x1="327.6" y1="336.9" x2="327.6" y2="340.3" stroke="#333" stroke-width="1"/>
<text x="38.6" y="350.6" font-size="11.6" text-anchor="middle" textLength="23.8" lengthAdjust="spacingAndGlyphs">2001</text>
<text x="139.3" y="350.6" font-size="11.6" text-anchor="middle" textLength="23.8" lengthAdjust="spacingAndGlyphs">2140</text>
<text x="240.7" y="350.6" font-size="11.6" text-anchor="middle" textLength="23.8" lengthAdjust="spacingAndGlyphs">2280</text>
<text x="327.6" y="350.6" font-size="11.6" text-anchor="middle" textLength="23.8" lengthAdjust="spacingAndGlyphs">2400</text>
<text x="40" y="190.9" font-size="11" textLength="12.6" lengthAdjust="spacing">c)</text>
<text x="61.8" y="190.9" font-size="11" textLength="16.5" lengthAdjust="spacingAndGlyphs">NA</text>
<text x="87.2" y="190.9" font-size="11" textLength="50.5" lengthAdjust="spacing">(BTECy)</text>
<text transform="translate(10.1 265.4) rotate(-90)" font-size="11" text-anchor="middle" textLength="39" lengthAdjust="spacing">BTECy</text>
<text x="183.4" y="371.1" font-size="12" text-anchor="middle" textLength="79" lengthAdjust="spacing" style="stroke-width:0.1px">Time [year]</text>
<line x1="250" y1="211.2" x2="274.6" y2="211.2" stroke="#e06e0f" stroke-width="2.2"/>
<text x="280" y="214.2" font-size="8.4" textLength="37" lengthAdjust="spacing" style="stroke-width:0;fill:#1a1a1a">BTECyca</text>
<line x1="250" y1="222.8" x2="274.6" y2="222.8" stroke="#87050a" stroke-width="2.2"/>
<text x="280" y="225.8" font-size="8.4" textLength="37" lengthAdjust="spacing" style="stroke-width:0;fill:#1a1a1a">BTECyac</text>
<line x1="250" y1="234.2" x2="274.6" y2="234.2" stroke="#b95f73" stroke-width="2.2"/>
<text x="280" y="237.2" font-size="8.4" textLength="37" lengthAdjust="spacing" style="stroke-width:0;fill:#1a1a1a">BTECyaa</text>
<line x1="482.6" y1="193.9" x2="482.6" y2="336.9" stroke="#444" stroke-width="1.1"/>
<line x1="584.5" y1="193.9" x2="584.5" y2="336.9" stroke="#444" stroke-width="1.0"/>
<g clip-path="url(#cpd)">
<path d="M385.5 280.5L387 279.1L388.5 278L390 276.2L391.5 275.1L393 275L394.5 276.5L396 277L397.5 275.5L399 274.9L400.5 273.4L402 275.1L403.5 276.8L405 277.6L406.5 282.3L408 280.3L409.5 277.1L411 279.3L412.5 280.1L414 278.7L415.5 279.2L417 281.7L418.5 282.9L420 280.9L421.5 281.9L423 286.5L424.5 286.1L426 283.4L427.5 282.3L429 280.5L430.5 281.9L432 286.7L433.5 287.4L435 283.2L436.5 283.3L438 286.8L439.5 285.9L441 286.4L442.5 284.3L444 282L445.5 284.1L447 285.6L448.5 284.8L450 284.1L451.5 283.5L453 280.2L454.5 281.5L456 282.8L457.5 280.5L459 282.9L460.5 288L462 289.9L463.5 289.3L465 288.8L466.5 285.4L468 286.2L469.5 289.2L471 285.9L472.5 285L474 286.9L475.5 288.7L477 289.7L478.5 288.9L480 289.1L481.5 287.4L483 285.4L484.5 287.1L486 289.1L487.5 289.3L489 289.7L490.5 289L492 289L493.5 289L495 287L496.5 284.1L498 281.9L499.5 282.2L501 284.5L502.5 286.8L504 286.3L505.5 285.9L507 287.5L508.5 289.2L510 288.1L511.5 287.1L513 286.9L514.5 284.7L516 282.8L517.5 285.2L519 289.2L520.5 292.3L522 291.2L523.5 288.6L525 288.7L526.5 285.2L528 285.2L529.5 287.1L531 285.3L532.5 287.2L534 287.8L535.5 286.4L537 286.5L538.5 284.8L540 284.4L541.5 285.5L543 284.4L544.5 281.4L546 283.9L547.5 286.2L549 283.5L550.5 283.2L552 282.7L553.5 283L555 285.1L556.5 282.7L558 282.2L559.5 284.6L561 282.8L562.5 281.5L564 280.8L565.5 279.7L567 277.5L568.5 279L570 279.5L571.5 277.2L573 276.9L574.5 276.3L576 276.1L577.5 273.5L579 272.9L580.5 274.2L582 273.4L583.5 275.6L585 278.9L586.5 277.7L588 276L589.5 275.1L591 273.4L592.5 272.3L594 273L595.5 272L597 269.4L598.5 270.7L600 271.1L601.5 271.8L603 271.3L604.5 269.3L606 269.3L607.5 267.3L609 268.3L610.5 271.1L612 271.2L613.5 269.8L615 269L616.5 269.2L618 268.6L619.5 268.1L621 268.2L622.5 268.3L624 269.3L625.5 269.6L627 267.9L628.5 268.5L630 269.6L631.5 268.1L633 267.3L634.5 268.6L636 270.1L637.5 271.2L639 271.7L640.5 271L642 269.5L643.5 268.5L645 269.5L646.5 270.6L648 270.9L649.5 272.6L651 274.6L652.5 273.1L654 271.9L655.5 271.5L657 272.4L658.5 273L660 271.4L661.5 271.1L663 272.6L664.5 274.3L666 273.6L666 292.2L664.5 293.8L663 292.5L661.5 291.4L660 290.3L658.5 289.2L657 292L655.5 293L654 290.4L652.5 290.5L651 291.9L649.5 291L648 288.7L646.5 287.2L645 287L643.5 291.3L642 291.7L640.5 291.6L639 292.3L637.5 288L636 288.6L634.5 291.6L633 289L631.5 289.4L630 289.4L628.5 286.8L627 289L625.5 290.2L624 289.9L622.5 290L621 290.1L619.5 291L618 291L616.5 290.8L615 290.1L613.5 290.4L612 290.7L610.5 291.3L609 294.5L607.5 291.9L606 289.8L604.5 292.1L603 291.4L601.5 291.4L600 291L598.5 293.6L597 292.6L595.5 290.1L594 295.6L592.5 295.2L591 294.4L589.5 299.7L588 298.5L586.5 297.8L585 296.9L583.5 295.2L582 297.3L580.5 296L579 294.6L577.5 294.4L576 295.1L574.5 298.7L573 298.8L571.5 296.7L570 299.2L568.5 299.8L567 297.9L565.5 297.7L564 298L562.5 300.3L561 302.5L559.5 303.8L558 304L556.5 303.6L555 304L553.5 305.1L552 304.2L550.5 303L549 305.1L547.5 304.5L546 302.9L544.5 305.3L543 307L541.5 306.5L540 306.1L538.5 307.3L537 309L535.5 306.8L534 303.4L532.5 304.9L531 306.9L529.5 306.4L528 306.8L526.5 307.3L525 307.3L523.5 306.3L522 308.1L520.5 310.7L519 308.7L517.5 306.8L516 303.5L514.5 301.3L513 305.9L511.5 306.5L510 303.8L508.5 302L507 302.1L505.5 302.7L504 304.5L502.5 304.6L501 304.2L499.5 306.6L498 307.2L496.5 308.2L495 307.3L493.5 307.1L492 308L490.5 309.8L489 309.9L487.5 309.1L486 309.4L484.5 309.2L483 307.8L481.5 304.7L480 306.4L478.5 309.5L477 308.8L475.5 309L474 308.7L472.5 308.2L471 307.5L469.5 306.8L468 305.9L466.5 305.4L465 306.4L463.5 308.3L462 310L460.5 308.1L459 304.4L457.5 301.7L456 301.4L454.5 299.9L453 298.8L451.5 300.9L450 301.4L448.5 301.3L447 302.9L445.5 305.5L444 304.9L442.5 303.9L441 307.4L439.5 306.7L438 306.1L436.5 307.3L435 306.7L433.5 305.4L432 304.3L430.5 304.1L429 302.5L427.5 301.4L426 304.5L424.5 305.7L423 304.2L421.5 304.6L420 303.6L418.5 302.6L417 302.4L415.5 301.5L414 301.9L412.5 301.9L411 302.4L409.5 302L408 299.6L406.5 297.7L405 296.6L403.5 295.4L402 293.2L400.5 294.2L399 294.5L397.5 293.8L396 295.3L394.5 296.7L393 297.5L391.5 299.7L390 300.9L388.5 297.9L387 297.5L385.5 298.1Z" fill="#e06e0f" fill-opacity="0.2"/>
<path d="M385 262.7L386.5 262.9L388 260.6L389.5 258.3L391 262.7L392.5 266L394 266.5L395.5 266.5L397 262.4L398.5 261.8L400 262.3L401.5 259.5L403 256.2L404.5 254.3L406 253.4L407.5 252.9L409 253.9L410.5 256.7L412 257.5L413.5 256.8L415 256.5L416.5 253L418 249.1L419.5 249.8L421 250.9L422.5 248.6L424 247.5L425.5 246L427 244.1L428.5 242.1L430 239.9L431.5 239.7L433 238.2L434.5 237.7L436 236.5L437.5 235.4L439 236.7L440.5 238.5L442 241.9L443.5 243.5L445 245L446.5 248.9L448 250.5L449.5 245.8L451 243.9L452.5 242.6L454 239.6L455.5 240.8L457 241.2L458.5 239.2L460 236.9L461.5 237L463 235.8L464.5 228.5L466 223.8L467.5 221.3L469 216L470.5 212.7L472 215L473.5 216.7L475 218.3L476.5 219.5L478 222.9L479.5 225.9L481 220.3L482.5 212.7L484 210.3L485.5 211L487 209.2L488.5 206.3L490 206.2L491.5 204.9L493 205.5L494.5 207L496 205.6L497.5 204L499 203.8L500.5 204.9L502 204.4L503.5 202.1L505 198.7L506.5 199.5L508 200.5L509.5 196.3L511 193.2L512.5 191.5L514 188.8L515.5 188.4L517 189.9L518.5 191.3L520 189.5L521.5 187.9L523 190.1L524.5 192.4L526 191.4L527.5 186.2L529 186L530.5 190L532 192.7L533.5 194.6L535 194.2L536.5 191.3L538 192L539.5 193L541 193.5L542.5 196.2L544 200.6L545.5 197.2L547 192.2L548.5 191.7L550 193.1L551.5 192.4L553 191.6L554.5 193.2L556 196.1L557.5 200.2L559 203.2L560.5 206L562 201.7L563.5 197.4L565 199.9L566.5 202.3L568 203.9L569.5 215.6L571 221.4L572.5 222.1L574 222.5L575.5 223L577 228.2L578.5 229.9L580 229.7L581.5 231.7L583 231.2L584.5 230.7L586 229.6L587.5 231L589 231.3L590.5 230.1L592 230.5L593.5 232.5L595 235.3L596.5 236.7L598 236.7L599.5 237.9L601 242.6L602.5 245.8L604 250.1L605.5 252.8L607 253.5L608.5 259.2L610 262.2L611.5 260.8L613 260.8L614.5 261.8L616 263L617.5 264.3L619 262.2L620.5 261.8L622 262L623.5 260.7L625 260.4L626.5 259L628 258.7L629.5 259.1L631 259.3L632.5 260.8L634 260.7L635.5 258.2L637 258.7L638.5 261.4L640 262.1L641.5 262.3L643 263L644.5 261.9L646 260.2L647.5 258.5L649 259.1L650.5 259.3L652 256L653.5 254.3L655 255.9L656.5 260.7L658 263.7L659.5 261.4L661 260.6L662.5 262.8L664 263.4L665.5 263.3L665.5 313L664 314.1L662.5 313.6L661 312.1L659.5 313.9L658 314L656.5 310.7L655 308.8L653.5 309.7L652 312.1L650.5 311.1L649 310.7L647.5 312.9L646 313L644.5 313.7L643 313.6L641.5 311.2L640 312.1L638.5 312.5L637 310.9L635.5 311.8L634 312.5L632.5 313.2L631 315.4L629.5 315.5L628 313.7L626.5 313.7L625 315.1L623.5 316.7L622 315.4L620.5 312.1L619 312.8L617.5 314.2L616 313.5L614.5 309.8L613 308.5L611.5 311.7L610 313L608.5 313.7L607 315L605.5 312.8L604 311.6L602.5 312.3L601 310.9L599.5 310.2L598 308.3L596.5 309.7L595 310.4L593.5 308.8L592 308.4L590.5 306.1L589 303.1L587.5 298.6L586 295.9L584.5 294L583 290.1L581.5 287.2L580 282.6L578.5 278.3L577 278.1L575.5 275.9L574 269.9L572.5 264.6L571 261L569.5 261.2L568 261.3L566.5 260.8L565 259.3L563.5 259L562 259.6L560.5 258.2L559 256.5L557.5 255.1L556 251L554.5 249.3L553 252.4L551.5 254.6L550 254.2L548.5 252.1L547 251.6L545.5 250.6L544 247.6L542.5 244.5L541 245.3L539.5 246L538 244.2L536.5 243.1L535 248.5L533.5 253L532 255.2L530.5 255.5L529 251.7L527.5 250.9L526 250.5L524.5 246.1L523 243.8L521.5 242.4L520 241.4L518.5 241.7L517 240.7L515.5 245.3L514 251L512.5 255.7L511 258.1L509.5 261.1L508 261.2L506.5 259.2L505 259.1L503.5 254.8L502 248L500.5 242.9L499 241.5L497.5 245.8L496 248.7L494.5 252.5L493 254.4L491.5 255L490 259.4L488.5 255L487 250.6L485.5 255.2L484 259.6L482.5 257.2L481 257.8L479.5 259.8L478 261.7L476.5 263.7L475 264.2L473.5 264.2L472 263.5L470.5 265.5L469 267.2L467.5 266.2L466 267.2L464.5 270.2L463 273.4L461.5 274L460 275.5L458.5 278L457 282.7L455.5 288.2L454 288.6L452.5 287.8L451 287.5L449.5 290.4L448 292.9L446.5 292.6L445 292.7L443.5 291.8L442 294.3L440.5 297L439 296.4L437.5 295.2L436 295.4L434.5 294.8L433 293.8L431.5 294.7L430 295.4L428.5 295.4L427 296.9L425.5 298.7L424 298.2L422.5 298.7L421 298.2L419.5 296.9L418 298.6L416.5 299.8L415 300.5L413.5 304.9L412 306.8L410.5 304.9L409 307.1L407.5 310L406 308.2L404.5 308L403 308.9L401.5 307.2L400 308.4L398.5 311.3L397 311.1L395.5 312.3L394 315.6L392.5 315.7L391 315.6L389.5 317.1L388 315.9L386.5 315.1L385 315.5Z" fill="#87050a" fill-opacity="0.2"/>
<path d="M385.5 269.7L387 271L388.5 272.2L390 271.3L391.5 270.5L393 269.6L394.5 266.9L396 265.2L397.5 264.1L399 264.6L400.5 265.4L402 264.2L403.5 266.6L405 269L406.5 268L408 267.6L409.5 270L411 270.3L412.5 266.8L414 265.6L415.5 269.7L417 271.2L418.5 271.6L420 274.3L421.5 270.9L423 269.4L424.5 270.2L426 266.1L427.5 264.4L429 265.4L430.5 267.5L432 268.8L433.5 269.4L435 273.9L436.5 274.1L438 272.5L439.5 269.7L441 267.4L442.5 266.4L444 262.8L445.5 259.6L447 261.3L448.5 262.9L450 265.1L451.5 264.5L453 263.1L454.5 263.3L456 259.3L457.5 255.9L459 258.8L460.5 258.4L462 256.8L463.5 258.9L465 259.9L466.5 260L468 261.5L469.5 263.5L471 265L472.5 265.3L474 267L475.5 266.2L477 265.1L478.5 264.8L480 265.5L481.5 267L483 267.7L484.5 269.2L486 270.5L487.5 269.4L489 268.8L490.5 269.1L492 267.1L493.5 265.2L495 261.2L496.5 262.8L498 265.9L499.5 262.3L501 262.5L502.5 261.8L504 259.5L505.5 258.9L507 259.6L508.5 260.1L510 260.2L511.5 261.6L513 264.1L514.5 264.5L516 266.6L517.5 270.9L519 270.1L520.5 267.9L522 266.4L523.5 265L525 265.8L526.5 264.7L528 264.1L529.5 265.6L531 265.1L532.5 265.5L534 265L535.5 265.6L537 269.9L538.5 269L540 264.3L541.5 262.3L543 261.2L544.5 260.9L546 260.6L547.5 260L549 260.1L550.5 262.5L552 264.1L553.5 266.1L555 269.2L556.5 270.4L558 267.4L559.5 266.6L561 266.7L562.5 263.3L564 261.3L565.5 259.7L567 256.9L568.5 256.3L570 258.6L571.5 259.3L573 257.2L574.5 258.2L576 261.5L577.5 264L579 262.7L580.5 263.3L582 265.4L583.5 266.5L585 268.4L586.5 267.7L588 267.7L589.5 267.8L591 266.6L592.5 267.1L594 264.9L595.5 260.6L597 261.3L598.5 259.2L600 256.9L601.5 258.3L603 257.6L604.5 259.2L606 262.5L607.5 262.3L609 261.6L610.5 260.8L612 258.1L613.5 258.2L615 258.4L616.5 256L618 256.7L619.5 257.7L621 256.6L622.5 257.5L624 261.2L625.5 261.1L627 260.2L628.5 263.7L630 264.5L631.5 264.2L633 265.4L634.5 265.9L636 262.8L637.5 259.9L639 258.3L640.5 257.3L642 256.7L643.5 256.2L645 258.6L646.5 260.3L648 260.1L649.5 263.2L651 263.4L652.5 263.6L654 264L655.5 263.8L657 264.9L658.5 263.8L660 260L661.5 257.6L663 258.9L664.5 260.3L666 261.8L666 298.5L664.5 295.1L663 294.2L661.5 293.7L660 295.2L658.5 299.3L657 303.4L655.5 302.9L654 299.8L652.5 297.2L651 295.4L649.5 296.6L648 296.7L646.5 293.7L645 294.2L643.5 296.9L642 295.8L640.5 296.3L639 296.5L637.5 295.1L636 297.2L634.5 301.1L633 302.6L631.5 301.4L630 300.1L628.5 298.8L627 293.4L625.5 292.6L624 291.7L622.5 290.9L621 290.9L619.5 290.4L618 292.9L616.5 294.3L615 295L613.5 293.9L612 294.4L610.5 294.9L609 296L607.5 297.5L606 294.3L604.5 294.8L603 296.6L601.5 294.1L600 290.6L598.5 291.8L597 294.6L595.5 298.6L594 300L592.5 299.9L591 304.1L589.5 306.1L588 301.4L586.5 297.8L585 299.3L583.5 300.2L582 301.8L580.5 302.2L579 301.3L577.5 298.3L576 296.8L574.5 294.1L573 294.5L571.5 295.5L570 294.5L568.5 293.6L567 293.6L565.5 295.6L564 296.2L562.5 297.1L561 300.1L559.5 305.2L558 306.9L556.5 305.9L555 305.7L553.5 305.9L552 302.8L550.5 299.5L549 297.9L547.5 299.1L546 299.4L544.5 296.6L543 296L541.5 296.4L540 298.8L538.5 302.2L537 301.5L535.5 300.6L534 298.3L532.5 297.8L531 298.7L529.5 299.3L528 298.6L526.5 297.9L525 298.8L523.5 302L522 303.9L520.5 302.4L519 304.2L517.5 304L516 299.7L514.5 295.7L513 294.8L511.5 295L510 293.4L508.5 291.2L507 290.1L505.5 292L504 295L502.5 295.5L501 297.8L499.5 300.7L498 299.4L496.5 298.1L495 297.9L493.5 299.8L492 303.4L490.5 304.2L489 303.5L487.5 305.2L486 306.5L484.5 302.3L483 298.6L481.5 300.3L480 299.1L478.5 295.4L477 295.4L475.5 298.3L474 301L472.5 304L471 303.9L469.5 301L468 297.7L466.5 294.2L465 292.9L463.5 293.9L462 294.6L460.5 293.3L459 295.6L457.5 295.1L456 294.4L454.5 300L453 302.2L451.5 298.7L450 297.1L448.5 296.8L447 294.2L445.5 291.7L444 294.8L442.5 298.1L441 299.3L439.5 300.1L438 302.1L436.5 303.3L435 306.4L433.5 304.7L432 303.1L430.5 300.6L429 300.5L427.5 301.7L426 301.6L424.5 303L423 305.4L421.5 307.6L420 306.7L418.5 308.4L417 306.8L415.5 303.6L414 302L412.5 302L411 303.9L409.5 305.3L408 304.2L406.5 302.1L405 302L403.5 300.5L402 300.2L400.5 303L399 302.7L397.5 304L396 305.1L394.5 303.2L393 303.3L391.5 303.2L390 302.8L388.5 305.7L387 306.6L385.5 303.8Z" fill="#e6698c" fill-opacity="0.2"/>
<path d="M385.5 289.7L387.1 288.8L388.7 288.3L390.3 288.6L391.9 287.1L393.5 286.9L395.1 286.2L396.7 285.9L398.3 285.6L399.9 285.5L401.5 284.8L403.1 286.2L404.7 288.1L406.3 290L407.9 290.1L409.5 291.2L411.1 292.1L412.7 290.3L414.3 290.6L415.9 292.8L417.5 291.7L419.1 292.2L420.7 293.3L422.3 294.9L423.9 295L425.5 293.2L427.1 293.9L428.7 293.9L430.3 293.8L431.9 293.6L433.5 295.6L435.1 295.3L436.7 297.1L438.3 297.2L439.9 297.3L441.5 296.1L443.1 294.2L444.7 294.3L446.3 294.6L447.9 293L449.5 292.9L451.1 292.2L452.7 290.2L454.3 290.5L455.9 291.1L457.5 292.9L459.1 294L460.7 296.3L462.3 297.1L463.9 297.6L465.5 297.6L467.1 298.3L468.7 298.2L470.3 298L471.9 299.1L473.5 299L475.1 299.6L476.7 298.4L478.3 298.2L479.9 297.8L481.5 296.7L483.1 298.2L484.7 299.4L486.3 299L487.9 298.4L489.5 300.2L491.1 299.1L492.7 298.4L494.3 297.6L495.9 296.9L497.5 296.9L499.1 295.6L500.7 296.1L502.3 295.8L503.9 296.4L505.5 295.2L507.1 296.3L508.7 295.7L510.3 296.1L511.9 294.9L513.5 295.6L515.1 296.2L516.7 296.1L518.3 297.5L519.9 298.2L521.5 298.8L523.1 298.6L524.7 297.7L526.3 297.6L527.9 297.5L529.5 296.7L531.1 296.2L532.7 297.3L534.3 296.4L535.9 296.5L537.5 296L539.1 295.3L540.7 295.4L542.3 294.3L543.9 294L545.5 292.9L547.1 293.1L548.7 293.9L550.3 295.2L551.9 294.6L553.5 295.6L555.1 294.5L556.7 293.9L558.3 292.9L559.9 292.7L561.5 292.9L563.1 292L564.7 290.5L566.3 289.9L567.9 290.2L569.5 288.5L571.1 288.4L572.7 286.7L574.3 286.5L575.9 285.8L577.5 284.4L579.1 283.8L580.7 284.3L582.3 284.7L583.9 285.4L585.5 287.2L587.1 288.3L588.7 287.1L590.3 285.5L591.9 284.7L593.5 283.9L595.1 283.1L596.7 281.8L598.3 282.3L599.9 282.8L601.5 280.7L603.1 281L604.7 281.5L606.3 280.4L607.9 280.3L609.5 280.4L611.1 280.1L612.7 279.1L614.3 279.2L615.9 277.7L617.5 279.1L619.1 279.2L620.7 279.1L622.3 279.6L623.9 279.6L625.5 280.3L627.1 279.5L628.7 279.7L630.3 279.1L631.9 279.5L633.5 280.1L635.1 279.5L636.7 279.9L638.3 279.7L639.9 280.2L641.5 280.7L643.1 281.3L644.7 280L646.3 280.8L647.9 281.3L649.5 281.8L651.1 282.2L652.7 281.3L654.3 282.1L655.9 283L657.5 283.6L659.1 283.2L660.7 282.8L662.3 282.3L663.9 281.7L665.5 282.2" fill="none" stroke="#e06e0f" stroke-width="2.3" stroke-linejoin="round" stroke-linecap="round"/>
<path d="M385.5 290.1L387.1 289.7L388.7 290.3L390.3 290.9L391.9 290.6L393.5 287.1L395.1 285.4L396.7 285.9L398.3 283.9L399.9 283.4L401.5 282.3L403.1 281.8L404.7 278L406.3 276.1L407.9 275.2L409.5 276.7L411.1 277.9L412.7 279.2L414.3 278.9L415.9 277.2L417.5 275.3L419.1 272.4L420.7 272L422.3 271.9L423.9 273.2L425.5 273.4L427.1 275.5L428.7 271.9L430.3 266.6L431.9 265.2L433.5 267.2L435.1 263.9L436.7 261.3L438.3 261.9L439.9 264.6L441.5 266L443.1 266.2L444.7 268.9L446.3 270.6L447.9 269L449.5 266.7L451.1 266.3L452.7 265.7L454.3 263.7L455.9 262.4L457.5 263.7L459.1 263.2L460.7 260.7L462.3 259.6L463.9 256.8L465.5 251.6L467.1 248.3L468.7 245.4L470.3 240.7L471.9 240L473.5 243.8L475.1 248.5L476.7 250.7L478.3 252.6L479.9 250L481.5 244.2L483.1 237.7L484.7 235.7L486.3 232.1L487.9 229.7L489.5 231.3L491.1 234.1L492.7 230.5L494.3 228.7L495.9 229.3L497.5 225.7L499.1 220.1L500.7 222.4L502.3 224.5L503.9 228.1L505.5 229.2L507.1 231.8L508.7 230.7L510.3 228.6L511.9 222.6L513.5 220.4L515.1 217L516.7 211.8L518.3 210.8L519.9 211.8L521.5 213.4L523.1 215.4L524.7 219.4L526.3 220.9L527.9 224.1L529.5 223.9L531.1 221.3L532.7 220.7L534.3 219.6L535.9 209.8L537.5 211.1L539.1 211.3L540.7 213.7L542.3 216.2L543.9 223.1L545.5 226.2L547.1 228L548.7 228.9L550.3 225.1L551.9 222.5L553.5 222.3L555.1 221.5L556.7 225.1L558.3 227.5L559.9 229.3L561.5 228.6L563.1 231.1L564.7 231.3L566.3 232.1L567.9 234.1L569.5 238.3L571.1 244.9L572.7 247.5L574.3 248.9L575.9 251.6L577.5 251.3L579.1 251.9L580.7 252.5L582.3 254.3L583.9 255.2L585.5 256.9L587.1 258.5L588.7 259.1L590.3 259L591.9 261.5L593.5 261.7L595.1 264L596.7 265.9L598.3 269.5L599.9 271.3L601.5 272.1L603.1 272.6L604.7 274.2L606.3 277.3L607.9 280.5L609.5 283.2L611.1 284.5L612.7 285.2L614.3 286.9L615.9 288.4L617.5 290.1L619.1 292.7L620.7 290.8L622.3 286.9L623.9 285.8L625.5 284.9L627.1 280.1L628.7 279.1L630.3 278.5L631.9 280.6L633.5 279.6L635.1 284L636.7 286.8L638.3 287.8L639.9 288.9L641.5 289.4L643.1 289.1L644.7 288.1L646.3 288.2L647.9 288.2L649.5 287.5L651.1 286.5L652.7 286.4L654.3 286.9L655.9 285.4L657.5 282.6L659.1 284.6L660.7 287.8L662.3 287.2L663.9 287.3L665.5 287.8" fill="none" stroke="#87050a" stroke-width="2.3" stroke-linejoin="round" stroke-linecap="round"/>
<path d="M385.5 288.8L387.1 288.1L388.7 287.9L390.3 286.7L391.9 287.1L393.5 288.2L395.1 287.8L396.7 286.4L398.3 285.5L399.9 284.6L401.5 284L403.1 285.8L404.7 286.8L406.3 288.2L407.9 288.1L409.5 287.6L411.1 285.8L412.7 285.8L414.3 286.5L415.9 288.2L417.5 288.7L419.1 291.1L420.7 290.7L422.3 290.3L423.9 288.6L425.5 287.2L427.1 285.9L428.7 284.1L430.3 286.2L431.9 286.4L433.5 289L435.1 292L436.7 289.7L438.3 287.7L439.9 285.1L441.5 283.3L443.1 279.9L444.7 278L446.3 278.1L447.9 280.9L449.5 282.7L451.1 284.3L452.7 285.7L454.3 282.9L455.9 279.7L457.5 279L459.1 278.1L460.7 276.7L462.3 278.4L463.9 278.4L465.5 279.2L467.1 281.3L468.7 281.9L470.3 284L471.9 284.6L473.5 284.5L475.1 282.9L476.7 281.4L478.3 281.2L479.9 282.4L481.5 284.1L483.1 286.2L484.7 288.7L486.3 288.9L487.9 288.9L489.5 289.1L491.1 286.3L492.7 285.7L494.3 284.5L495.9 283.9L497.5 282.8L499.1 283.4L500.7 284L502.3 281.1L503.9 278.7L505.5 277.8L507.1 276.3L508.7 277.5L510.3 279.8L511.9 280.3L513.5 282.2L515.1 284.6L516.7 286.9L518.3 289.1L519.9 287.6L521.5 286.6L523.1 284.5L524.7 284.6L526.3 283.1L527.9 283.2L529.5 282.6L531.1 283L532.7 282.1L534.3 283.1L535.9 284L537.5 285.7L539.1 284L540.7 282.4L542.3 280.3L543.9 279.1L545.5 279.7L547.1 281.1L548.7 281.7L550.3 283.2L551.9 284.9L553.5 286.2L555.1 288.1L556.7 289L558.3 287.6L559.9 286.1L561.5 284.5L563.1 282.7L564.7 280.8L566.3 277.8L567.9 276.5L569.5 276.7L571.1 277.9L572.7 278.3L574.3 276.2L575.9 278.4L577.5 280.3L579.1 280.4L580.7 283.4L582.3 282.6L583.9 285L585.5 285.3L587.1 287.1L588.7 288.1L590.3 286.1L591.9 284.9L593.5 282.4L595.1 280.5L596.7 279.4L598.3 276.1L599.9 276.5L601.5 278.7L603.1 277.9L604.7 279L606.3 280.5L607.9 280.2L609.5 280.1L611.1 280.5L612.7 279L614.3 278.8L615.9 277.7L617.5 276.9L619.1 274.7L620.7 275.5L622.3 276.7L623.9 277.4L625.5 277.7L627.1 279.7L628.7 284.2L630.3 283.9L631.9 285.2L633.5 284.1L635.1 281.8L636.7 281.1L638.3 278.6L639.9 277.6L641.5 277.4L643.1 277.7L644.7 278.1L646.3 279.2L647.9 279.5L649.5 280.2L651.1 280.5L652.7 283.2L654.3 283.4L655.9 283.7L657.5 282.9L659.1 282.1L660.7 280.4L662.3 280L663.9 279.9L665.5 280.8" fill="none" stroke="#b95f73" stroke-width="2.3" stroke-linejoin="round" stroke-linecap="round"/>
</g>
<line x1="381.6" y1="193.9" x2="670.6" y2="193.9" stroke="#222" stroke-width="1.05"/>
<line x1="670.6" y1="193.9" x2="670.6" y2="336.9" stroke="#222" stroke-width="1.05"/>
<line x1="381.6" y1="336.9" x2="670.6" y2="336.9" stroke="#2a2a2a" stroke-width="1.25"/>
<line x1="381.6" y1="193.9" x2="381.6" y2="336.9" stroke="#000" stroke-width="1.35"/>
<line x1="377.1" y1="336.9" x2="381.6" y2="336.9" stroke="#222" stroke-width="1.1"/>
<text x="373.3" y="341.1" font-size="11.8" text-anchor="end">−2</text>
<line x1="377.1" y1="313.1" x2="381.6" y2="313.1" stroke="#222" stroke-width="1.1"/>
<text x="373.3" y="317.3" font-size="11.8" text-anchor="end">−1</text>
<line x1="377.1" y1="289.2" x2="381.6" y2="289.2" stroke="#222" stroke-width="1.1"/>
<text x="373.3" y="293.4" font-size="11.8" text-anchor="end">0</text>
<line x1="377.1" y1="265.4" x2="381.6" y2="265.4" stroke="#222" stroke-width="1.1"/>
<text x="373.3" y="269.6" font-size="11.8" text-anchor="end">1</text>
<line x1="377.1" y1="241.6" x2="381.6" y2="241.6" stroke="#222" stroke-width="1.1"/>
<text x="373.3" y="245.8" font-size="11.8" text-anchor="end">2</text>
<line x1="377.1" y1="217.7" x2="381.6" y2="217.7" stroke="#222" stroke-width="1.1"/>
<text x="373.3" y="221.9" font-size="11.8" text-anchor="end">3</text>
<line x1="377.1" y1="193.9" x2="381.6" y2="193.9" stroke="#222" stroke-width="1.1"/>
<text x="373.3" y="198.1" font-size="11.8" text-anchor="end">4</text>
<line x1="381.7" y1="336.9" x2="381.7" y2="340.3" stroke="#333" stroke-width="1"/>
<line x1="396.2" y1="336.9" x2="396.2" y2="340.3" stroke="#333" stroke-width="1"/>
<line x1="410.6" y1="336.9" x2="410.6" y2="340.3" stroke="#333" stroke-width="1"/>
<line x1="425.1" y1="336.9" x2="425.1" y2="340.3" stroke="#333" stroke-width="1"/>
<line x1="439.5" y1="336.9" x2="439.5" y2="340.3" stroke="#333" stroke-width="1"/>
<line x1="454" y1="336.9" x2="454" y2="340.3" stroke="#333" stroke-width="1"/>
<line x1="468.4" y1="336.9" x2="468.4" y2="340.3" stroke="#333" stroke-width="1"/>
<line x1="482.9" y1="336.9" x2="482.9" y2="340.3" stroke="#333" stroke-width="1"/>
<line x1="497.3" y1="336.9" x2="497.3" y2="340.3" stroke="#333" stroke-width="1"/>
<line x1="511.8" y1="336.9" x2="511.8" y2="340.3" stroke="#333" stroke-width="1"/>
<line x1="526.2" y1="336.9" x2="526.2" y2="340.3" stroke="#333" stroke-width="1"/>
<line x1="540.7" y1="336.9" x2="540.7" y2="340.3" stroke="#333" stroke-width="1"/>
<line x1="555.1" y1="336.9" x2="555.1" y2="340.3" stroke="#333" stroke-width="1"/>
<line x1="569.6" y1="336.9" x2="569.6" y2="340.3" stroke="#333" stroke-width="1"/>
<line x1="584" y1="336.9" x2="584" y2="340.3" stroke="#333" stroke-width="1"/>
<line x1="598.5" y1="336.9" x2="598.5" y2="340.3" stroke="#333" stroke-width="1"/>
<line x1="612.9" y1="336.9" x2="612.9" y2="340.3" stroke="#333" stroke-width="1"/>
<line x1="627.4" y1="336.9" x2="627.4" y2="340.3" stroke="#333" stroke-width="1"/>
<line x1="641.8" y1="336.9" x2="641.8" y2="340.3" stroke="#333" stroke-width="1"/>
<line x1="656.2" y1="336.9" x2="656.2" y2="340.3" stroke="#333" stroke-width="1"/>
<line x1="670.6" y1="336.9" x2="670.6" y2="340.3" stroke="#333" stroke-width="1"/>
<text x="381.6" y="350.6" font-size="11.6" text-anchor="middle" textLength="23.8" lengthAdjust="spacingAndGlyphs">2001</text>
<text x="482.3" y="350.6" font-size="11.6" text-anchor="middle" textLength="23.8" lengthAdjust="spacingAndGlyphs">2140</text>
<text x="583.7" y="350.6" font-size="11.6" text-anchor="middle" textLength="23.8" lengthAdjust="spacingAndGlyphs">2280</text>
<text x="670.6" y="350.6" font-size="11.6" text-anchor="middle" textLength="23.8" lengthAdjust="spacingAndGlyphs">2400</text>
<text x="383" y="190.9" font-size="11" textLength="12.6" lengthAdjust="spacing">d)</text>
<text x="404.8" y="190.9" font-size="11" textLength="16.5" lengthAdjust="spacingAndGlyphs">NP</text>
<text x="430.2" y="190.9" font-size="11" textLength="50.5" lengthAdjust="spacing">(BTECy)</text>
<text transform="translate(353.1 265.4) rotate(-90)" font-size="11" text-anchor="middle" textLength="39" lengthAdjust="spacing">BTECy</text>
<text x="526.4" y="371.1" font-size="12" text-anchor="middle" textLength="79" lengthAdjust="spacing" style="stroke-width:0.1px">Time [year]</text>
</svg>
</body></html>
